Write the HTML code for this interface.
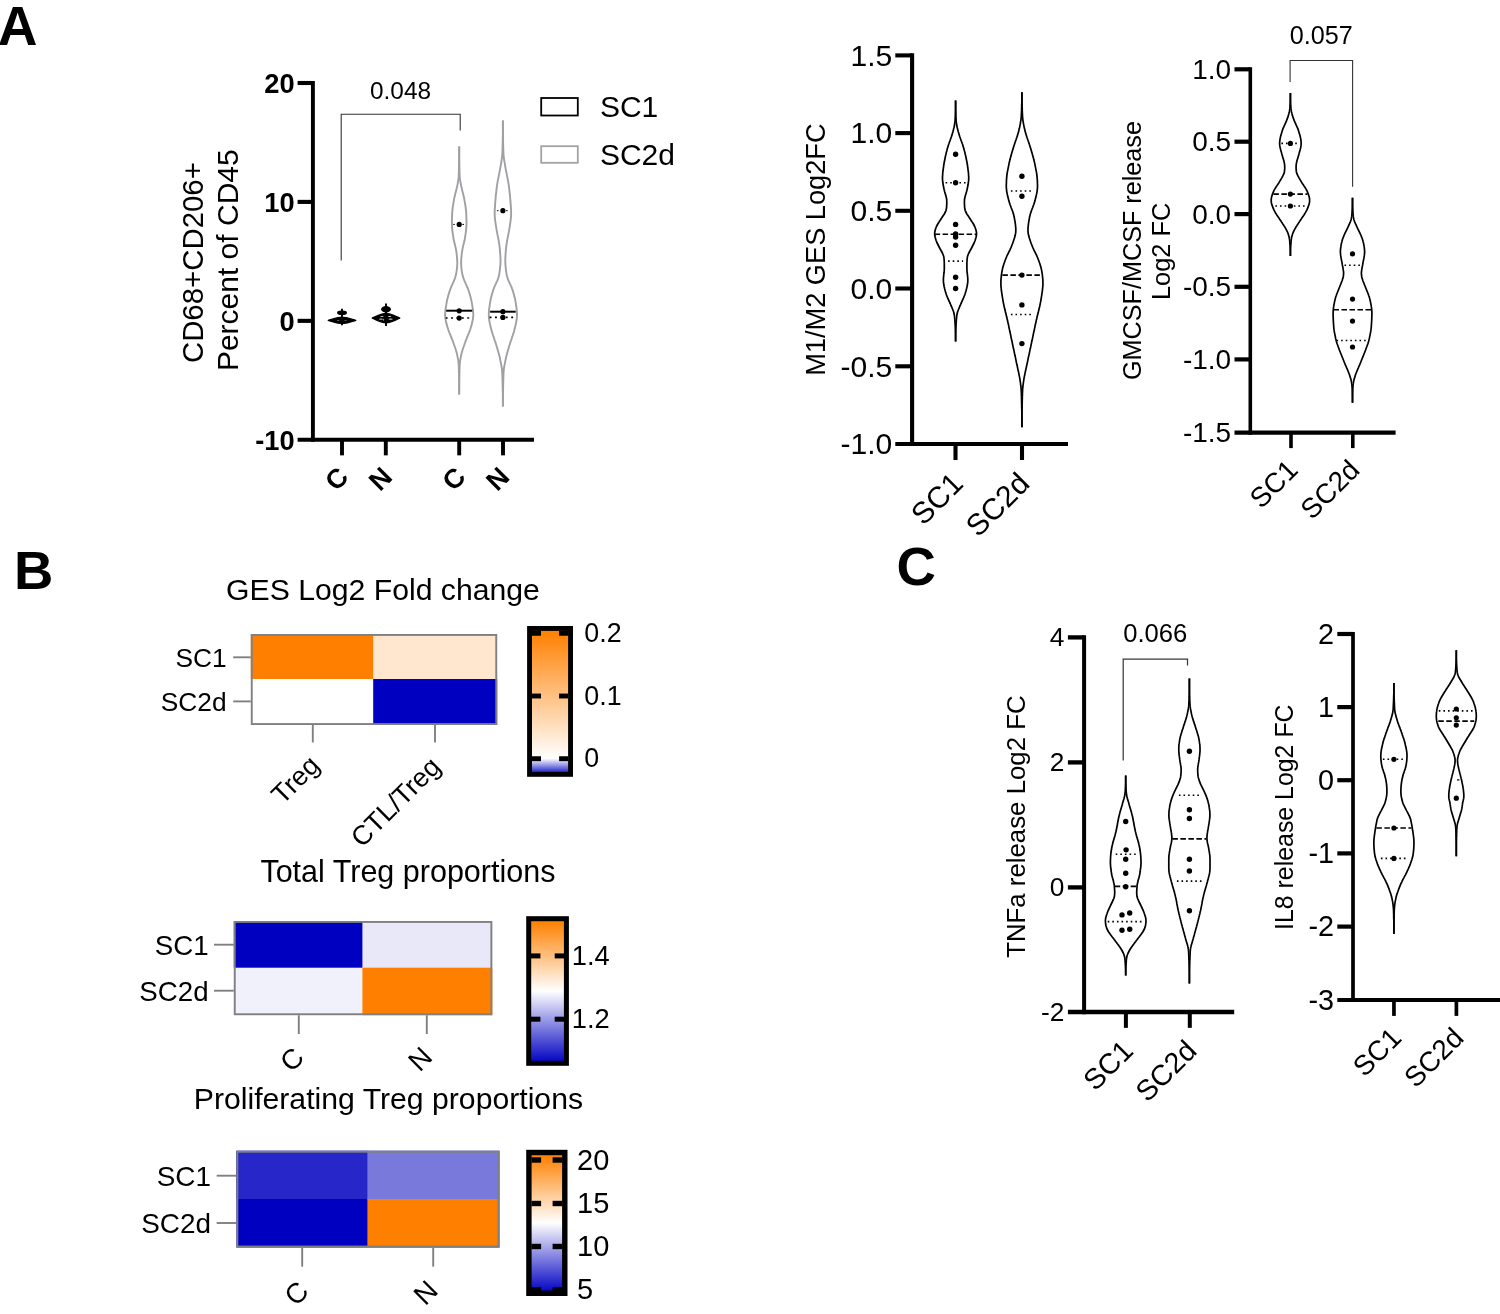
<!DOCTYPE html>
<html><head><meta charset="utf-8"><title>Figure</title>
<style>
html,body{margin:0;padding:0;background:#fff;}
svg{display:block;will-change:transform;}
text{font-family:"Liberation Sans",sans-serif;}
</style></head><body>
<svg width="1500" height="1314" viewBox="0 0 1500 1314" font-family="Liberation Sans, sans-serif">
<rect x="0" y="0" width="1500" height="1314" fill="#fff"/>
<text x="-2.20" y="45.00" font-size="55" text-anchor="start" font-weight="bold" fill="#000" >A</text>
<text x="14.00" y="588.70" font-size="54.5" text-anchor="start" font-weight="bold" fill="#000" >B</text>
<text x="896.60" y="584.50" font-size="54.5" text-anchor="start" font-weight="bold" fill="#000" >C</text>
<line x1="312.90" y1="80.95" x2="312.90" y2="441.85" stroke="#000" stroke-width="3.9" stroke-linecap="butt"/>
<line x1="297.60" y1="439.80" x2="534.00" y2="439.80" stroke="#000" stroke-width="4.1" stroke-linecap="butt"/>
<line x1="297.60" y1="83.00" x2="312.90" y2="83.00" stroke="#000" stroke-width="4.1" stroke-linecap="butt"/>
<line x1="297.60" y1="201.90" x2="312.90" y2="201.90" stroke="#000" stroke-width="4.1" stroke-linecap="butt"/>
<line x1="297.60" y1="320.85" x2="312.90" y2="320.85" stroke="#000" stroke-width="4.1" stroke-linecap="butt"/>
<line x1="342.00" y1="439.80" x2="342.00" y2="455.35" stroke="#000" stroke-width="3.9" stroke-linecap="butt"/>
<line x1="385.80" y1="439.80" x2="385.80" y2="455.35" stroke="#000" stroke-width="3.9" stroke-linecap="butt"/>
<line x1="459.20" y1="439.80" x2="459.20" y2="455.35" stroke="#000" stroke-width="3.9" stroke-linecap="butt"/>
<line x1="503.00" y1="439.80" x2="503.00" y2="455.35" stroke="#000" stroke-width="3.9" stroke-linecap="butt"/>
<text x="294.70" y="92.70" font-size="27.3" text-anchor="end" font-weight="bold" fill="#000" >20</text>
<text x="294.70" y="211.60" font-size="27.3" text-anchor="end" font-weight="bold" fill="#000" >10</text>
<text x="294.70" y="330.55" font-size="27.3" text-anchor="end" font-weight="bold" fill="#000" >0</text>
<text x="294.70" y="449.50" font-size="27.3" text-anchor="end" font-weight="bold" fill="#000" >-10</text>
<text x="203.40" y="262.60" font-size="29.4" text-anchor="middle" transform="rotate(-90 203.40 262.60)" fill="#000" >CD68+CD206+</text>
<text x="238.40" y="260.20" font-size="30" text-anchor="middle" transform="rotate(-90 238.40 260.20)" fill="#000" >Percent of CD45</text>
<text x="350.00" y="478.50" font-size="27" text-anchor="end" font-weight="bold" transform="rotate(-45 350.00 478.50)" fill="#000" >C</text>
<text x="393.80" y="478.50" font-size="27" text-anchor="end" font-weight="bold" transform="rotate(-45 393.80 478.50)" fill="#000" >N</text>
<text x="467.20" y="478.50" font-size="27" text-anchor="end" font-weight="bold" transform="rotate(-45 467.20 478.50)" fill="#000" >C</text>
<text x="511.00" y="478.50" font-size="27" text-anchor="end" font-weight="bold" transform="rotate(-45 511.00 478.50)" fill="#000" >N</text>
<polyline points="341.2,260.6 341.2,114.3 460.2,114.3 460.2,130.4" fill="none" stroke="#333" stroke-width="1.1"/>
<text x="400.50" y="98.60" font-size="24.4" text-anchor="middle" fill="#000" >0.048</text>
<rect x="541.20" y="98.00" width="36.60" height="17.50" fill="#fff" stroke="#000" stroke-width="1.8"/>
<rect x="541.20" y="146.20" width="36.60" height="16.60" fill="#fff" stroke="#a3a3a6" stroke-width="1.8"/>
<text x="599.90" y="116.80" font-size="30" text-anchor="start" fill="#000" >SC1</text>
<text x="599.90" y="164.60" font-size="30" text-anchor="start" fill="#000" >SC2d</text>
<path d="M328.20,320.30 C333.72,318.75 337.86,317.20 342.00,317.20 C346.14,317.20 350.28,318.75 355.80,320.30 C350.28,321.85 346.14,323.40 342.00,323.40 C337.86,323.40 333.72,321.85 328.20,320.30Z" fill="#000" stroke="#000" stroke-width="1.3" stroke-linejoin="round"/>
<ellipse cx="342.00" cy="312.70" rx="5.0" ry="2.3" fill="#000"/>
<line x1="342.00" y1="308.70" x2="342.00" y2="325.30" stroke="#000" stroke-width="1.9" stroke-linecap="butt"/>
<ellipse cx="338.20" cy="320.40" rx="1.6" ry="0.45" fill="#fff" opacity="0.55"/>
<ellipse cx="345.60" cy="320.40" rx="1.6" ry="0.45" fill="#fff" opacity="0.45"/>
<path d="M372.20,318.10 C377.72,315.75 381.86,313.40 386.00,313.40 C390.14,313.40 394.28,315.75 399.80,318.10 C394.28,320.45 390.14,322.80 386.00,322.80 C381.86,322.80 377.72,320.45 372.20,318.10Z" fill="#000" stroke="#000" stroke-width="1.3" stroke-linejoin="round"/>
<ellipse cx="386.00" cy="309.20" rx="4.9" ry="3.2" fill="#000"/>
<line x1="386.00" y1="303.40" x2="386.00" y2="325.90" stroke="#000" stroke-width="1.9" stroke-linecap="butt"/>
<ellipse cx="382.00" cy="316.40" rx="1.7" ry="0.5" fill="#fff" opacity="0.8"/>
<ellipse cx="389.60" cy="316.40" rx="1.7" ry="0.5" fill="#fff" opacity="0.8"/>
<ellipse cx="381.00" cy="319.10" rx="2.2" ry="0.6" fill="#fff" opacity="0.75"/>
<ellipse cx="390.60" cy="319.10" rx="2.2" ry="0.65" fill="#fff" opacity="0.85"/>
<ellipse cx="383.60" cy="319.70" rx="0.6" ry="1.0" fill="#fff" opacity="0.6"/>
<polyline points="459.2,146.6 459.2,147.6 459.2,148.6 459.2,149.6 459.2,150.6 459.2,151.6 459.2,152.6 459.2,153.6 459.2,154.6 459.2,155.6 459.2,156.6 459.2,157.6 459.2,158.6 459.2,159.6 459.2,160.6 459.2,161.6 459.1,162.6 459.0,163.6 459.0,164.6 459.0,165.6 459.0,166.6 459.0,167.6 458.9,168.6 458.9,169.6 458.9,170.6 458.9,171.6 458.8,172.6 458.8,173.6 458.8,174.6 458.7,175.6 458.7,176.6 458.6,177.6 458.5,178.6 458.3,179.6 458.2,180.6 458.0,181.6 457.9,182.6 457.7,183.6 457.5,184.6 457.3,185.6 457.1,186.6 456.9,187.6 456.6,188.6 456.4,189.6 456.2,190.6 455.9,191.6 455.6,192.6 455.4,193.6 455.1,194.6 454.9,195.6 454.7,196.6 454.4,197.6 454.2,198.6 454.0,199.6 453.9,200.6 453.7,201.6 453.5,202.6 453.3,203.6 453.2,204.6 453.0,205.6 452.9,206.6 452.7,207.6 452.6,208.6 452.5,209.6 452.4,210.6 452.3,211.6 452.2,212.6 452.2,213.6 452.1,214.6 452.1,215.6 452.0,216.6 452.0,217.6 452.0,218.6 451.9,219.6 451.9,220.6 451.9,221.6 451.9,222.6 451.9,223.6 451.9,224.6 452.0,225.6 452.0,226.6 452.1,227.6 452.2,228.6 452.3,229.6 452.4,230.6 452.5,231.6 452.6,232.6 452.8,233.6 452.9,234.6 453.1,235.6 453.2,236.6 453.4,237.6 453.5,238.6 453.7,239.6 453.9,240.6 454.2,241.6 454.4,242.6 454.6,243.6 454.9,244.6 455.1,245.6 455.4,246.6 455.6,247.6 455.8,248.6 456.0,249.6 456.2,250.6 456.3,251.6 456.5,252.6 456.6,253.6 456.7,254.6 456.8,255.6 456.9,256.6 457.0,257.6 457.1,258.6 457.2,259.6 457.2,260.6 457.2,261.6 457.3,262.6 457.3,263.6 457.2,264.6 457.2,265.6 457.1,266.6 457.0,267.6 456.9,268.6 456.8,269.6 456.7,270.6 456.5,271.6 456.3,272.6 456.2,273.6 456.0,274.6 455.7,275.6 455.5,276.6 455.2,277.6 454.8,278.6 454.4,279.6 454.0,280.6 453.6,281.6 453.1,282.6 452.7,283.6 452.2,284.6 451.8,285.6 451.3,286.6 450.9,287.6 450.5,288.6 450.2,289.6 449.8,290.6 449.5,291.6 449.2,292.6 448.9,293.6 448.6,294.6 448.3,295.6 448.0,296.6 447.8,297.6 447.5,298.6 447.3,299.6 447.0,300.6 446.8,301.6 446.6,302.6 446.5,303.6 446.3,304.6 446.1,305.6 446.0,306.6 445.8,307.6 445.6,308.6 445.5,309.6 445.4,310.6 445.3,311.6 445.2,312.6 445.1,313.6 445.1,314.6 445.1,315.6 445.2,316.6 445.3,317.6 445.4,318.6 445.6,319.6 445.8,320.6 446.0,321.6 446.2,322.6 446.5,323.6 446.7,324.6 447.0,325.6 447.3,326.6 447.6,327.6 447.9,328.6 448.2,329.6 448.6,330.6 449.0,331.6 449.3,332.6 449.8,333.6 450.2,334.6 450.6,335.6 451.0,336.6 451.4,337.6 451.8,338.6 452.2,339.6 452.6,340.6 453.0,341.6 453.3,342.6 453.7,343.6 454.0,344.6 454.4,345.6 454.7,346.6 455.1,347.6 455.4,348.6 455.7,349.6 456.0,350.6 456.3,351.6 456.6,352.6 456.9,353.6 457.1,354.6 457.3,355.6 457.5,356.6 457.7,357.6 457.9,358.6 458.1,359.6 458.3,360.6 458.4,361.6 458.5,362.6 458.6,363.6 458.7,364.6 458.7,365.6 458.8,366.6 458.8,367.6 458.8,368.6 458.9,369.6 458.9,370.6 458.9,371.6 458.9,372.6 459.0,373.6 459.0,374.6 459.0,375.6 459.0,376.6 459.0,377.6 459.1,378.6 459.1,379.6 459.2,380.6 459.2,381.6 459.2,382.6 459.2,383.6 459.2,384.6 459.2,385.6 459.2,386.6 459.2,387.6 459.2,388.6 459.2,389.6 459.2,390.6 459.2,391.6 459.2,392.6 459.2,393.6 459.2,394.6" fill="none" stroke="#a0a0a4" stroke-width="1.9" stroke-linejoin="round"/>
<polyline points="459.2,146.6 459.2,147.6 459.2,148.6 459.2,149.6 459.2,150.6 459.2,151.6 459.2,152.6 459.2,153.6 459.2,154.6 459.2,155.6 459.2,156.6 459.2,157.6 459.2,158.6 459.2,159.6 459.2,160.6 459.2,161.6 459.3,162.6 459.4,163.6 459.4,164.6 459.4,165.6 459.4,166.6 459.4,167.6 459.5,168.6 459.5,169.6 459.5,170.6 459.5,171.6 459.6,172.6 459.6,173.6 459.6,174.6 459.7,175.6 459.7,176.6 459.8,177.6 459.9,178.6 460.1,179.6 460.2,180.6 460.4,181.6 460.5,182.6 460.7,183.6 460.9,184.6 461.1,185.6 461.3,186.6 461.5,187.6 461.8,188.6 462.0,189.6 462.2,190.6 462.5,191.6 462.8,192.6 463.0,193.6 463.3,194.6 463.5,195.6 463.7,196.6 464.0,197.6 464.2,198.6 464.4,199.6 464.5,200.6 464.7,201.6 464.9,202.6 465.1,203.6 465.2,204.6 465.4,205.6 465.5,206.6 465.7,207.6 465.8,208.6 465.9,209.6 466.0,210.6 466.1,211.6 466.2,212.6 466.2,213.6 466.3,214.6 466.3,215.6 466.4,216.6 466.4,217.6 466.4,218.6 466.5,219.6 466.5,220.6 466.5,221.6 466.5,222.6 466.5,223.6 466.5,224.6 466.4,225.6 466.4,226.6 466.3,227.6 466.2,228.6 466.1,229.6 466.0,230.6 465.9,231.6 465.8,232.6 465.6,233.6 465.5,234.6 465.3,235.6 465.2,236.6 465.0,237.6 464.9,238.6 464.7,239.6 464.5,240.6 464.2,241.6 464.0,242.6 463.8,243.6 463.5,244.6 463.3,245.6 463.0,246.6 462.8,247.6 462.6,248.6 462.4,249.6 462.2,250.6 462.1,251.6 461.9,252.6 461.8,253.6 461.7,254.6 461.6,255.6 461.5,256.6 461.4,257.6 461.3,258.6 461.2,259.6 461.2,260.6 461.2,261.6 461.1,262.6 461.1,263.6 461.2,264.6 461.2,265.6 461.3,266.6 461.4,267.6 461.5,268.6 461.6,269.6 461.7,270.6 461.9,271.6 462.1,272.6 462.2,273.6 462.4,274.6 462.7,275.6 462.9,276.6 463.2,277.6 463.6,278.6 464.0,279.6 464.4,280.6 464.8,281.6 465.3,282.6 465.7,283.6 466.2,284.6 466.6,285.6 467.1,286.6 467.5,287.6 467.9,288.6 468.2,289.6 468.6,290.6 468.9,291.6 469.2,292.6 469.5,293.6 469.8,294.6 470.1,295.6 470.4,296.6 470.6,297.6 470.9,298.6 471.1,299.6 471.4,300.6 471.6,301.6 471.8,302.6 471.9,303.6 472.1,304.6 472.3,305.6 472.4,306.6 472.6,307.6 472.8,308.6 472.9,309.6 473.0,310.6 473.1,311.6 473.2,312.6 473.3,313.6 473.3,314.6 473.3,315.6 473.2,316.6 473.1,317.6 473.0,318.6 472.8,319.6 472.6,320.6 472.4,321.6 472.2,322.6 471.9,323.6 471.7,324.6 471.4,325.6 471.1,326.6 470.8,327.6 470.5,328.6 470.2,329.6 469.8,330.6 469.4,331.6 469.1,332.6 468.6,333.6 468.2,334.6 467.8,335.6 467.4,336.6 467.0,337.6 466.6,338.6 466.2,339.6 465.8,340.6 465.4,341.6 465.1,342.6 464.7,343.6 464.4,344.6 464.0,345.6 463.7,346.6 463.3,347.6 463.0,348.6 462.7,349.6 462.4,350.6 462.1,351.6 461.8,352.6 461.5,353.6 461.3,354.6 461.1,355.6 460.9,356.6 460.7,357.6 460.5,358.6 460.3,359.6 460.1,360.6 460.0,361.6 459.9,362.6 459.8,363.6 459.7,364.6 459.7,365.6 459.6,366.6 459.6,367.6 459.6,368.6 459.5,369.6 459.5,370.6 459.5,371.6 459.5,372.6 459.4,373.6 459.4,374.6 459.4,375.6 459.4,376.6 459.4,377.6 459.3,378.6 459.3,379.6 459.2,380.6 459.2,381.6 459.2,382.6 459.2,383.6 459.2,384.6 459.2,385.6 459.2,386.6 459.2,387.6 459.2,388.6 459.2,389.6 459.2,390.6 459.2,391.6 459.2,392.6 459.2,393.6 459.2,394.6" fill="none" stroke="#a0a0a4" stroke-width="1.9" stroke-linejoin="round"/>
<polyline points="502.9,120.6 502.9,121.6 502.9,122.6 502.9,123.6 502.9,124.6 502.9,125.6 502.9,126.6 502.9,127.6 502.9,128.6 502.9,129.6 502.9,130.6 502.9,131.6 502.9,132.6 502.9,133.6 502.9,134.6 502.9,135.6 502.8,136.6 502.8,137.6 502.7,138.6 502.7,139.6 502.7,140.6 502.7,141.6 502.7,142.6 502.7,143.6 502.6,144.6 502.6,145.6 502.6,146.6 502.6,147.6 502.5,148.6 502.5,149.6 502.5,150.6 502.4,151.6 502.4,152.6 502.3,153.6 502.3,154.6 502.2,155.6 502.1,156.6 502.0,157.6 501.8,158.6 501.7,159.6 501.5,160.6 501.4,161.6 501.2,162.6 501.0,163.6 500.9,164.6 500.7,165.6 500.5,166.6 500.4,167.6 500.2,168.6 500.0,169.6 499.8,170.6 499.6,171.6 499.4,172.6 499.2,173.6 499.0,174.6 498.8,175.6 498.6,176.6 498.4,177.6 498.2,178.6 498.0,179.6 497.8,180.6 497.6,181.6 497.5,182.6 497.3,183.6 497.1,184.6 497.0,185.6 496.9,186.6 496.7,187.6 496.6,188.6 496.5,189.6 496.4,190.6 496.3,191.6 496.2,192.6 496.0,193.6 495.9,194.6 495.8,195.6 495.7,196.6 495.7,197.6 495.6,198.6 495.5,199.6 495.4,200.6 495.3,201.6 495.2,202.6 495.2,203.6 495.1,204.6 495.0,205.6 495.0,206.6 494.9,207.6 494.8,208.6 494.8,209.6 494.7,210.6 494.7,211.6 494.7,212.6 494.7,213.6 494.7,214.6 494.7,215.6 494.8,216.6 494.9,217.6 495.0,218.6 495.1,219.6 495.2,220.6 495.3,221.6 495.5,222.6 495.6,223.6 495.8,224.6 495.9,225.6 496.1,226.6 496.2,227.6 496.4,228.6 496.6,229.6 496.7,230.6 496.9,231.6 497.1,232.6 497.3,233.6 497.5,234.6 497.7,235.6 497.9,236.6 498.1,237.6 498.3,238.6 498.5,239.6 498.7,240.6 498.8,241.6 499.0,242.6 499.2,243.6 499.3,244.6 499.4,245.6 499.6,246.6 499.7,247.6 499.8,248.6 499.9,249.6 500.0,250.6 500.0,251.6 500.1,252.6 500.2,253.6 500.3,254.6 500.3,255.6 500.4,256.6 500.4,257.6 500.5,258.6 500.5,259.6 500.5,260.6 500.5,261.6 500.5,262.6 500.4,263.6 500.4,264.6 500.3,265.6 500.2,266.6 500.1,267.6 500.0,268.6 499.9,269.6 499.8,270.6 499.6,271.6 499.5,272.6 499.3,273.6 499.2,274.6 498.9,275.6 498.7,276.6 498.4,277.6 498.1,278.6 497.7,279.6 497.3,280.6 496.8,281.6 496.3,282.6 495.9,283.6 495.4,284.6 495.0,285.6 494.5,286.6 494.1,287.6 493.8,288.6 493.4,289.6 493.1,290.6 492.8,291.6 492.5,292.6 492.2,293.6 491.9,294.6 491.6,295.6 491.4,296.6 491.1,297.6 490.9,298.6 490.6,299.6 490.4,300.6 490.3,301.6 490.1,302.6 489.9,303.6 489.8,304.6 489.6,305.6 489.5,306.6 489.4,307.6 489.2,308.6 489.1,309.6 489.0,310.6 488.9,311.6 488.9,312.6 488.8,313.6 488.8,314.6 488.8,315.6 488.9,316.6 488.9,317.6 489.0,318.6 489.2,319.6 489.3,320.6 489.5,321.6 489.7,322.6 489.9,323.6 490.1,324.6 490.3,325.6 490.6,326.6 490.8,327.6 491.0,328.6 491.3,329.6 491.6,330.6 491.8,331.6 492.1,332.6 492.5,333.6 492.8,334.6 493.1,335.6 493.5,336.6 493.8,337.6 494.1,338.6 494.5,339.6 494.8,340.6 495.2,341.6 495.5,342.6 495.8,343.6 496.1,344.6 496.4,345.6 496.7,346.6 497.0,347.6 497.3,348.6 497.6,349.6 497.9,350.6 498.2,351.6 498.5,352.6 498.7,353.6 499.0,354.6 499.3,355.6 499.5,356.6 499.8,357.6 500.0,358.6 500.2,359.6 500.4,360.6 500.6,361.6 500.8,362.6 501.0,363.6 501.2,364.6 501.4,365.6 501.6,366.6 501.7,367.6 501.9,368.6 502.0,369.6 502.1,370.6 502.1,371.6 502.2,372.6 502.3,373.6 502.3,374.6 502.3,375.6 502.4,376.6 502.4,377.6 502.4,378.6 502.5,379.6 502.5,380.6 502.5,381.6 502.6,382.6 502.6,383.6 502.6,384.6 502.6,385.6 502.7,386.6 502.7,387.6 502.7,388.6 502.7,389.6 502.7,390.6 502.8,391.6 502.8,392.6 502.9,393.6 502.9,394.6 502.9,395.6 502.9,396.6 502.9,397.6 502.9,398.6 502.9,399.6 502.9,400.6 502.9,401.6 502.9,402.6 502.9,403.6 502.9,404.6 502.9,405.6 502.9,406.6" fill="none" stroke="#a0a0a4" stroke-width="1.9" stroke-linejoin="round"/>
<polyline points="502.9,120.6 502.9,121.6 502.9,122.6 502.9,123.6 502.9,124.6 502.9,125.6 502.9,126.6 502.9,127.6 502.9,128.6 502.9,129.6 502.9,130.6 502.9,131.6 502.9,132.6 502.9,133.6 502.9,134.6 502.9,135.6 503.0,136.6 503.0,137.6 503.1,138.6 503.1,139.6 503.1,140.6 503.1,141.6 503.1,142.6 503.1,143.6 503.2,144.6 503.2,145.6 503.2,146.6 503.2,147.6 503.3,148.6 503.3,149.6 503.3,150.6 503.4,151.6 503.4,152.6 503.5,153.6 503.5,154.6 503.6,155.6 503.7,156.6 503.8,157.6 504.0,158.6 504.1,159.6 504.3,160.6 504.4,161.6 504.6,162.6 504.8,163.6 504.9,164.6 505.1,165.6 505.3,166.6 505.4,167.6 505.6,168.6 505.8,169.6 506.0,170.6 506.2,171.6 506.4,172.6 506.6,173.6 506.8,174.6 507.0,175.6 507.2,176.6 507.4,177.6 507.6,178.6 507.8,179.6 508.0,180.6 508.2,181.6 508.3,182.6 508.5,183.6 508.7,184.6 508.8,185.6 508.9,186.6 509.1,187.6 509.2,188.6 509.3,189.6 509.4,190.6 509.5,191.6 509.6,192.6 509.8,193.6 509.9,194.6 510.0,195.6 510.1,196.6 510.1,197.6 510.2,198.6 510.3,199.6 510.4,200.6 510.5,201.6 510.6,202.6 510.6,203.6 510.7,204.6 510.8,205.6 510.8,206.6 510.9,207.6 511.0,208.6 511.0,209.6 511.1,210.6 511.1,211.6 511.1,212.6 511.1,213.6 511.1,214.6 511.1,215.6 511.0,216.6 510.9,217.6 510.8,218.6 510.7,219.6 510.6,220.6 510.5,221.6 510.3,222.6 510.2,223.6 510.0,224.6 509.9,225.6 509.7,226.6 509.6,227.6 509.4,228.6 509.2,229.6 509.1,230.6 508.9,231.6 508.7,232.6 508.5,233.6 508.3,234.6 508.1,235.6 507.9,236.6 507.7,237.6 507.5,238.6 507.3,239.6 507.1,240.6 507.0,241.6 506.8,242.6 506.6,243.6 506.5,244.6 506.4,245.6 506.2,246.6 506.1,247.6 506.0,248.6 505.9,249.6 505.8,250.6 505.8,251.6 505.7,252.6 505.6,253.6 505.5,254.6 505.5,255.6 505.4,256.6 505.4,257.6 505.3,258.6 505.3,259.6 505.3,260.6 505.3,261.6 505.3,262.6 505.4,263.6 505.4,264.6 505.5,265.6 505.6,266.6 505.7,267.6 505.8,268.6 505.9,269.6 506.0,270.6 506.2,271.6 506.3,272.6 506.5,273.6 506.6,274.6 506.9,275.6 507.1,276.6 507.4,277.6 507.7,278.6 508.1,279.6 508.5,280.6 509.0,281.6 509.5,282.6 509.9,283.6 510.4,284.6 510.8,285.6 511.3,286.6 511.7,287.6 512.0,288.6 512.4,289.6 512.7,290.6 513.0,291.6 513.3,292.6 513.6,293.6 513.9,294.6 514.2,295.6 514.4,296.6 514.7,297.6 514.9,298.6 515.2,299.6 515.4,300.6 515.5,301.6 515.7,302.6 515.9,303.6 516.0,304.6 516.2,305.6 516.3,306.6 516.4,307.6 516.6,308.6 516.7,309.6 516.8,310.6 516.9,311.6 516.9,312.6 517.0,313.6 517.0,314.6 517.0,315.6 516.9,316.6 516.9,317.6 516.8,318.6 516.6,319.6 516.5,320.6 516.3,321.6 516.1,322.6 515.9,323.6 515.7,324.6 515.5,325.6 515.2,326.6 515.0,327.6 514.8,328.6 514.5,329.6 514.2,330.6 514.0,331.6 513.7,332.6 513.3,333.6 513.0,334.6 512.7,335.6 512.3,336.6 512.0,337.6 511.7,338.6 511.3,339.6 511.0,340.6 510.6,341.6 510.3,342.6 510.0,343.6 509.7,344.6 509.4,345.6 509.1,346.6 508.8,347.6 508.5,348.6 508.2,349.6 507.9,350.6 507.6,351.6 507.3,352.6 507.1,353.6 506.8,354.6 506.5,355.6 506.3,356.6 506.0,357.6 505.8,358.6 505.6,359.6 505.4,360.6 505.2,361.6 505.0,362.6 504.8,363.6 504.6,364.6 504.4,365.6 504.2,366.6 504.1,367.6 503.9,368.6 503.8,369.6 503.7,370.6 503.7,371.6 503.6,372.6 503.5,373.6 503.5,374.6 503.5,375.6 503.4,376.6 503.4,377.6 503.4,378.6 503.3,379.6 503.3,380.6 503.3,381.6 503.2,382.6 503.2,383.6 503.2,384.6 503.2,385.6 503.1,386.6 503.1,387.6 503.1,388.6 503.1,389.6 503.1,390.6 503.0,391.6 503.0,392.6 502.9,393.6 502.9,394.6 502.9,395.6 502.9,396.6 502.9,397.6 502.9,398.6 502.9,399.6 502.9,400.6 502.9,401.6 502.9,402.6 502.9,403.6 502.9,404.6 502.9,405.6 502.9,406.6" fill="none" stroke="#a0a0a4" stroke-width="1.9" stroke-linejoin="round"/>
<line x1="453.20" y1="224.40" x2="465.20" y2="224.40" stroke="#000" stroke-width="1.0" stroke-dasharray="1.6 3.0" stroke-linecap="butt"/>
<line x1="446.20" y1="310.70" x2="472.20" y2="310.70" stroke="#000" stroke-width="2.0" stroke-linecap="butt"/>
<line x1="445.70" y1="318.00" x2="472.70" y2="318.00" stroke="#000" stroke-width="1.7" stroke-dasharray="1.9 3.5" stroke-linecap="butt"/>
<line x1="496.90" y1="210.70" x2="508.90" y2="210.70" stroke="#000" stroke-width="1.0" stroke-dasharray="1.6 3.0" stroke-linecap="butt"/>
<line x1="490.10" y1="311.70" x2="515.70" y2="311.70" stroke="#000" stroke-width="2.0" stroke-linecap="butt"/>
<line x1="489.60" y1="317.40" x2="516.20" y2="317.40" stroke="#000" stroke-width="1.7" stroke-dasharray="1.9 3.5" stroke-linecap="butt"/>
<circle cx="459.20" cy="224.40" r="2.6" fill="#000"/>
<circle cx="459.20" cy="310.80" r="2.6" fill="#000"/>
<circle cx="459.20" cy="318.10" r="2.6" fill="#000"/>
<circle cx="502.90" cy="210.70" r="2.6" fill="#000"/>
<circle cx="502.90" cy="311.70" r="2.6" fill="#000"/>
<circle cx="502.90" cy="317.40" r="2.6" fill="#000"/>
<line x1="912.10" y1="53.35" x2="912.10" y2="446.00" stroke="#000" stroke-width="4.1" stroke-linecap="butt"/>
<line x1="895.30" y1="443.95" x2="1068.00" y2="443.95" stroke="#000" stroke-width="4.1" stroke-linecap="butt"/>
<line x1="895.30" y1="55.40" x2="912.10" y2="55.40" stroke="#000" stroke-width="4.1" stroke-linecap="butt"/>
<line x1="895.30" y1="133.10" x2="912.10" y2="133.10" stroke="#000" stroke-width="4.1" stroke-linecap="butt"/>
<line x1="895.30" y1="210.80" x2="912.10" y2="210.80" stroke="#000" stroke-width="4.1" stroke-linecap="butt"/>
<line x1="895.30" y1="288.50" x2="912.10" y2="288.50" stroke="#000" stroke-width="4.1" stroke-linecap="butt"/>
<line x1="895.30" y1="366.30" x2="912.10" y2="366.30" stroke="#000" stroke-width="4.1" stroke-linecap="butt"/>
<line x1="955.50" y1="443.95" x2="955.50" y2="460.00" stroke="#000" stroke-width="4.1" stroke-linecap="butt"/>
<line x1="1022.00" y1="443.95" x2="1022.00" y2="460.00" stroke="#000" stroke-width="4.1" stroke-linecap="butt"/>
<text x="892.30" y="65.70" font-size="30" text-anchor="end" fill="#000" >1.5</text>
<text x="892.30" y="143.40" font-size="30" text-anchor="end" fill="#000" >1.0</text>
<text x="892.30" y="221.10" font-size="30" text-anchor="end" fill="#000" >0.5</text>
<text x="892.30" y="298.80" font-size="30" text-anchor="end" fill="#000" >0.0</text>
<text x="892.30" y="376.60" font-size="30" text-anchor="end" fill="#000" >-0.5</text>
<text x="892.30" y="454.25" font-size="30" text-anchor="end" fill="#000" >-1.0</text>
<text x="825.00" y="249.60" font-size="27.2" text-anchor="middle" transform="rotate(-90 825.00 249.60)" fill="#000" >M1/M2 GES Log2FC</text>
<text x="964.80" y="485.30" font-size="30" text-anchor="end" transform="rotate(-45 964.80 485.30)" fill="#000" >SC1</text>
<text x="1031.30" y="485.30" font-size="30" text-anchor="end" transform="rotate(-45 1031.30 485.30)" fill="#000" >SC2d</text>
<polyline points="955.6,100.5 955.6,101.5 955.6,102.5 955.6,103.5 955.6,104.5 955.6,105.5 955.6,106.5 955.6,107.5 955.6,108.5 955.6,109.5 955.5,110.5 955.4,111.5 955.4,112.5 955.4,113.5 955.3,114.5 955.3,115.5 955.3,116.5 955.2,117.5 955.2,118.5 955.1,119.5 955.1,120.5 955.0,121.5 954.9,122.5 954.7,123.5 954.6,124.5 954.4,125.5 954.2,126.5 954.0,127.5 953.7,128.5 953.5,129.5 953.2,130.5 953.0,131.5 952.7,132.5 952.4,133.5 952.1,134.5 951.8,135.5 951.5,136.5 951.1,137.5 950.8,138.5 950.4,139.5 950.1,140.5 949.7,141.5 949.3,142.5 949.0,143.5 948.6,144.5 948.3,145.5 948.0,146.5 947.7,147.5 947.4,148.5 947.1,149.5 946.9,150.5 946.6,151.5 946.3,152.5 946.1,153.5 945.9,154.5 945.6,155.5 945.4,156.5 945.2,157.5 945.0,158.5 944.8,159.5 944.6,160.5 944.4,161.5 944.2,162.5 944.0,163.5 943.9,164.5 943.7,165.5 943.6,166.5 943.5,167.5 943.3,168.5 943.2,169.5 943.1,170.5 942.9,171.5 942.8,172.5 942.7,173.5 942.7,174.5 942.6,175.5 942.5,176.5 942.5,177.5 942.5,178.5 942.5,179.5 942.6,180.5 942.7,181.5 942.8,182.5 943.0,183.5 943.1,184.5 943.3,185.5 943.5,186.5 943.7,187.5 943.9,188.5 944.1,189.5 944.4,190.5 944.6,191.5 944.9,192.5 945.2,193.5 945.5,194.5 945.8,195.5 946.1,196.5 946.3,197.5 946.5,198.5 946.7,199.5 946.7,200.5 946.8,201.5 946.8,202.5 946.8,203.5 946.7,204.5 946.7,205.5 946.6,206.5 946.6,207.5 946.4,208.5 946.2,209.5 946.0,210.5 945.6,211.5 945.1,212.5 944.6,213.5 944.0,214.5 943.3,215.5 942.6,216.5 942.0,217.5 941.3,218.5 940.7,219.5 940.0,220.5 939.4,221.5 938.7,222.5 938.1,223.5 937.5,224.5 937.0,225.5 936.5,226.5 936.1,227.5 935.7,228.5 935.4,229.5 935.1,230.5 934.9,231.5 934.7,232.5 934.7,233.5 934.7,234.5 934.8,235.5 935.0,236.5 935.2,237.5 935.5,238.5 935.8,239.5 936.1,240.5 936.5,241.5 936.9,242.5 937.4,243.5 937.9,244.5 938.4,245.5 938.9,246.5 939.4,247.5 939.9,248.5 940.5,249.5 941.0,250.5 941.6,251.5 942.1,252.5 942.6,253.5 943.0,254.5 943.4,255.5 943.7,256.5 943.9,257.5 944.0,258.5 944.1,259.5 944.2,260.5 944.2,261.5 944.3,262.5 944.3,263.5 944.3,264.5 944.3,265.5 944.3,266.5 944.3,267.5 944.3,268.5 944.3,269.5 944.2,270.5 944.2,271.5 944.1,272.5 943.9,273.5 943.8,274.5 943.7,275.5 943.6,276.5 943.5,277.5 943.4,278.5 943.4,279.5 943.4,280.5 943.4,281.5 943.5,282.5 943.6,283.5 943.8,284.5 943.9,285.5 944.1,286.5 944.4,287.5 944.6,288.5 944.9,289.5 945.1,290.5 945.4,291.5 945.7,292.5 946.0,293.5 946.3,294.5 946.7,295.5 947.1,296.5 947.5,297.5 947.9,298.5 948.4,299.5 948.8,300.5 949.3,301.5 949.7,302.5 950.2,303.5 950.6,304.5 951.0,305.5 951.5,306.5 951.9,307.5 952.3,308.5 952.7,309.5 953.1,310.5 953.5,311.5 953.8,312.5 954.0,313.5 954.2,314.5 954.4,315.5 954.5,316.5 954.6,317.5 954.7,318.5 954.8,319.5 954.9,320.5 954.9,321.5 955.0,322.5 955.1,323.5 955.1,324.5 955.2,325.5 955.2,326.5 955.3,327.5 955.3,328.5 955.3,329.5 955.4,330.5 955.4,331.5 955.4,332.5 955.5,333.5 955.6,334.5 955.6,335.5 955.6,336.5 955.6,337.5 955.6,338.5 955.6,339.5 955.6,340.5 955.6,341.5" fill="none" stroke="#000" stroke-width="1.7" stroke-linejoin="round"/>
<polyline points="955.6,100.5 955.6,101.5 955.6,102.5 955.6,103.5 955.6,104.5 955.6,105.5 955.6,106.5 955.6,107.5 955.6,108.5 955.6,109.5 955.7,110.5 955.8,111.5 955.8,112.5 955.8,113.5 955.9,114.5 955.9,115.5 955.9,116.5 956.0,117.5 956.0,118.5 956.1,119.5 956.1,120.5 956.2,121.5 956.3,122.5 956.5,123.5 956.6,124.5 956.8,125.5 957.0,126.5 957.2,127.5 957.5,128.5 957.7,129.5 958.0,130.5 958.2,131.5 958.5,132.5 958.8,133.5 959.1,134.5 959.4,135.5 959.7,136.5 960.1,137.5 960.4,138.5 960.8,139.5 961.1,140.5 961.5,141.5 961.9,142.5 962.2,143.5 962.6,144.5 962.9,145.5 963.2,146.5 963.5,147.5 963.8,148.5 964.1,149.5 964.3,150.5 964.6,151.5 964.9,152.5 965.1,153.5 965.3,154.5 965.6,155.5 965.8,156.5 966.0,157.5 966.2,158.5 966.4,159.5 966.6,160.5 966.8,161.5 967.0,162.5 967.2,163.5 967.3,164.5 967.5,165.5 967.6,166.5 967.7,167.5 967.9,168.5 968.0,169.5 968.1,170.5 968.3,171.5 968.4,172.5 968.5,173.5 968.5,174.5 968.6,175.5 968.7,176.5 968.7,177.5 968.7,178.5 968.7,179.5 968.6,180.5 968.5,181.5 968.4,182.5 968.2,183.5 968.1,184.5 967.9,185.5 967.7,186.5 967.5,187.5 967.3,188.5 967.1,189.5 966.8,190.5 966.6,191.5 966.3,192.5 966.0,193.5 965.7,194.5 965.4,195.5 965.1,196.5 964.9,197.5 964.7,198.5 964.5,199.5 964.5,200.5 964.4,201.5 964.4,202.5 964.4,203.5 964.5,204.5 964.5,205.5 964.6,206.5 964.6,207.5 964.8,208.5 965.0,209.5 965.2,210.5 965.6,211.5 966.1,212.5 966.6,213.5 967.2,214.5 967.9,215.5 968.6,216.5 969.2,217.5 969.9,218.5 970.5,219.5 971.2,220.5 971.8,221.5 972.5,222.5 973.1,223.5 973.7,224.5 974.2,225.5 974.7,226.5 975.1,227.5 975.5,228.5 975.8,229.5 976.1,230.5 976.3,231.5 976.5,232.5 976.5,233.5 976.5,234.5 976.4,235.5 976.2,236.5 976.0,237.5 975.7,238.5 975.4,239.5 975.1,240.5 974.7,241.5 974.3,242.5 973.8,243.5 973.3,244.5 972.8,245.5 972.3,246.5 971.8,247.5 971.3,248.5 970.7,249.5 970.2,250.5 969.6,251.5 969.1,252.5 968.6,253.5 968.2,254.5 967.8,255.5 967.5,256.5 967.3,257.5 967.2,258.5 967.1,259.5 967.0,260.5 967.0,261.5 966.9,262.5 966.9,263.5 966.9,264.5 966.9,265.5 966.9,266.5 966.9,267.5 966.9,268.5 966.9,269.5 967.0,270.5 967.0,271.5 967.1,272.5 967.3,273.5 967.4,274.5 967.5,275.5 967.6,276.5 967.7,277.5 967.8,278.5 967.8,279.5 967.8,280.5 967.8,281.5 967.7,282.5 967.6,283.5 967.4,284.5 967.3,285.5 967.1,286.5 966.8,287.5 966.6,288.5 966.3,289.5 966.1,290.5 965.8,291.5 965.5,292.5 965.2,293.5 964.9,294.5 964.5,295.5 964.1,296.5 963.7,297.5 963.3,298.5 962.8,299.5 962.4,300.5 961.9,301.5 961.5,302.5 961.0,303.5 960.6,304.5 960.2,305.5 959.7,306.5 959.3,307.5 958.9,308.5 958.5,309.5 958.1,310.5 957.7,311.5 957.4,312.5 957.2,313.5 957.0,314.5 956.8,315.5 956.7,316.5 956.6,317.5 956.5,318.5 956.4,319.5 956.3,320.5 956.3,321.5 956.2,322.5 956.1,323.5 956.1,324.5 956.0,325.5 956.0,326.5 955.9,327.5 955.9,328.5 955.9,329.5 955.8,330.5 955.8,331.5 955.8,332.5 955.7,333.5 955.6,334.5 955.6,335.5 955.6,336.5 955.6,337.5 955.6,338.5 955.6,339.5 955.6,340.5 955.6,341.5" fill="none" stroke="#000" stroke-width="1.7" stroke-linejoin="round"/>
<polyline points="1021.9,92.3 1021.9,93.3 1021.9,94.3 1021.9,95.3 1021.9,96.3 1021.9,97.3 1021.9,98.3 1021.9,99.3 1021.9,100.3 1021.9,101.3 1021.9,102.3 1021.8,103.3 1021.7,104.3 1021.7,105.3 1021.7,106.3 1021.7,107.3 1021.6,108.3 1021.6,109.3 1021.6,110.3 1021.5,111.3 1021.5,112.3 1021.4,113.3 1021.4,114.3 1021.3,115.3 1021.3,116.3 1021.2,117.3 1021.1,118.3 1021.0,119.3 1020.9,120.3 1020.7,121.3 1020.5,122.3 1020.4,123.3 1020.2,124.3 1020.0,125.3 1019.8,126.3 1019.6,127.3 1019.4,128.3 1019.1,129.3 1018.9,130.3 1018.7,131.3 1018.4,132.3 1018.1,133.3 1017.8,134.3 1017.5,135.3 1017.2,136.3 1016.9,137.3 1016.5,138.3 1016.2,139.3 1015.8,140.3 1015.5,141.3 1015.1,142.3 1014.8,143.3 1014.5,144.3 1014.1,145.3 1013.8,146.3 1013.5,147.3 1013.2,148.3 1012.9,149.3 1012.6,150.3 1012.3,151.3 1012.0,152.3 1011.7,153.3 1011.4,154.3 1011.2,155.3 1010.9,156.3 1010.6,157.3 1010.3,158.3 1010.1,159.3 1009.8,160.3 1009.6,161.3 1009.3,162.3 1009.1,163.3 1008.9,164.3 1008.7,165.3 1008.5,166.3 1008.3,167.3 1008.1,168.3 1007.9,169.3 1007.7,170.3 1007.5,171.3 1007.3,172.3 1007.2,173.3 1007.0,174.3 1006.9,175.3 1006.8,176.3 1006.7,177.3 1006.6,178.3 1006.5,179.3 1006.5,180.3 1006.4,181.3 1006.4,182.3 1006.4,183.3 1006.3,184.3 1006.3,185.3 1006.3,186.3 1006.3,187.3 1006.4,188.3 1006.5,189.3 1006.6,190.3 1006.7,191.3 1006.9,192.3 1007.1,193.3 1007.3,194.3 1007.5,195.3 1007.7,196.3 1008.0,197.3 1008.2,198.3 1008.5,199.3 1008.7,200.3 1009.0,201.3 1009.3,202.3 1009.6,203.3 1009.9,204.3 1010.3,205.3 1010.7,206.3 1011.0,207.3 1011.4,208.3 1011.8,209.3 1012.2,210.3 1012.6,211.3 1012.9,212.3 1013.2,213.3 1013.5,214.3 1013.8,215.3 1014.0,216.3 1014.3,217.3 1014.4,218.3 1014.6,219.3 1014.8,220.3 1015.0,221.3 1015.1,222.3 1015.3,223.3 1015.4,224.3 1015.5,225.3 1015.6,226.3 1015.7,227.3 1015.8,228.3 1015.8,229.3 1015.8,230.3 1015.8,231.3 1015.7,232.3 1015.6,233.3 1015.4,234.3 1015.2,235.3 1014.9,236.3 1014.7,237.3 1014.4,238.3 1014.0,239.3 1013.7,240.3 1013.4,241.3 1013.0,242.3 1012.7,243.3 1012.3,244.3 1011.9,245.3 1011.5,246.3 1011.1,247.3 1010.6,248.3 1010.2,249.3 1009.7,250.3 1009.2,251.3 1008.7,252.3 1008.2,253.3 1007.7,254.3 1007.2,255.3 1006.8,256.3 1006.4,257.3 1006.0,258.3 1005.6,259.3 1005.2,260.3 1004.8,261.3 1004.5,262.3 1004.1,263.3 1003.8,264.3 1003.5,265.3 1003.2,266.3 1002.9,267.3 1002.6,268.3 1002.4,269.3 1002.2,270.3 1002.0,271.3 1001.8,272.3 1001.7,273.3 1001.5,274.3 1001.4,275.3 1001.3,276.3 1001.2,277.3 1001.1,278.3 1001.0,279.3 1000.9,280.3 1000.9,281.3 1000.9,282.3 1000.9,283.3 1000.9,284.3 1000.9,285.3 1001.0,286.3 1001.1,287.3 1001.2,288.3 1001.3,289.3 1001.4,290.3 1001.5,291.3 1001.7,292.3 1001.8,293.3 1002.0,294.3 1002.1,295.3 1002.3,296.3 1002.4,297.3 1002.6,298.3 1002.8,299.3 1002.9,300.3 1003.1,301.3 1003.3,302.3 1003.5,303.3 1003.7,304.3 1003.9,305.3 1004.1,306.3 1004.3,307.3 1004.6,308.3 1004.8,309.3 1005.1,310.3 1005.3,311.3 1005.5,312.3 1005.8,313.3 1006.0,314.3 1006.3,315.3 1006.5,316.3 1006.8,317.3 1007.0,318.3 1007.2,319.3 1007.5,320.3 1007.7,321.3 1007.9,322.3 1008.1,323.3 1008.4,324.3 1008.6,325.3 1008.8,326.3 1009.0,327.3 1009.2,328.3 1009.4,329.3 1009.6,330.3 1009.8,331.3 1010.1,332.3 1010.3,333.3 1010.5,334.3 1010.7,335.3 1010.9,336.3 1011.1,337.3 1011.3,338.3 1011.5,339.3 1011.7,340.3 1012.0,341.3 1012.2,342.3 1012.4,343.3 1012.6,344.3 1012.8,345.3 1013.0,346.3 1013.2,347.3 1013.4,348.3 1013.7,349.3 1013.9,350.3 1014.1,351.3 1014.3,352.3 1014.5,353.3 1014.7,354.3 1014.9,355.3 1015.2,356.3 1015.4,357.3 1015.6,358.3 1015.8,359.3 1016.0,360.3 1016.2,361.3 1016.4,362.3 1016.6,363.3 1016.8,364.3 1017.1,365.3 1017.3,366.3 1017.5,367.3 1017.7,368.3 1017.9,369.3 1018.1,370.3 1018.4,371.3 1018.6,372.3 1018.8,373.3 1019.0,374.3 1019.2,375.3 1019.4,376.3 1019.6,377.3 1019.8,378.3 1019.9,379.3 1020.1,380.3 1020.2,381.3 1020.4,382.3 1020.5,383.3 1020.6,384.3 1020.8,385.3 1020.9,386.3 1021.0,387.3 1021.1,388.3 1021.2,389.3 1021.2,390.3 1021.3,391.3 1021.3,392.3 1021.4,393.3 1021.4,394.3 1021.4,395.3 1021.5,396.3 1021.5,397.3 1021.5,398.3 1021.5,399.3 1021.6,400.3 1021.6,401.3 1021.6,402.3 1021.6,403.3 1021.7,404.3 1021.7,405.3 1021.7,406.3 1021.7,407.3 1021.7,408.3 1021.8,409.3 1021.8,410.3 1021.9,411.3 1021.9,412.3 1021.9,413.3 1021.9,414.3 1021.9,415.3 1021.9,416.3 1021.9,417.3 1021.9,418.3 1021.9,419.3 1021.9,420.3 1021.9,421.3 1021.9,422.3 1021.9,423.3 1021.9,424.3 1021.9,425.3 1021.9,426.3 1021.9,427.3" fill="none" stroke="#000" stroke-width="1.7" stroke-linejoin="round"/>
<polyline points="1021.9,92.3 1021.9,93.3 1021.9,94.3 1021.9,95.3 1021.9,96.3 1021.9,97.3 1021.9,98.3 1021.9,99.3 1021.9,100.3 1021.9,101.3 1021.9,102.3 1022.0,103.3 1022.1,104.3 1022.1,105.3 1022.1,106.3 1022.1,107.3 1022.2,108.3 1022.2,109.3 1022.2,110.3 1022.3,111.3 1022.3,112.3 1022.4,113.3 1022.4,114.3 1022.5,115.3 1022.5,116.3 1022.6,117.3 1022.7,118.3 1022.8,119.3 1022.9,120.3 1023.1,121.3 1023.3,122.3 1023.4,123.3 1023.6,124.3 1023.8,125.3 1024.0,126.3 1024.2,127.3 1024.4,128.3 1024.7,129.3 1024.9,130.3 1025.1,131.3 1025.4,132.3 1025.7,133.3 1026.0,134.3 1026.3,135.3 1026.6,136.3 1026.9,137.3 1027.3,138.3 1027.6,139.3 1028.0,140.3 1028.3,141.3 1028.7,142.3 1029.0,143.3 1029.3,144.3 1029.7,145.3 1030.0,146.3 1030.3,147.3 1030.6,148.3 1030.9,149.3 1031.2,150.3 1031.5,151.3 1031.8,152.3 1032.1,153.3 1032.4,154.3 1032.6,155.3 1032.9,156.3 1033.2,157.3 1033.5,158.3 1033.7,159.3 1034.0,160.3 1034.2,161.3 1034.5,162.3 1034.7,163.3 1034.9,164.3 1035.1,165.3 1035.3,166.3 1035.5,167.3 1035.7,168.3 1035.9,169.3 1036.1,170.3 1036.3,171.3 1036.5,172.3 1036.6,173.3 1036.8,174.3 1036.9,175.3 1037.0,176.3 1037.1,177.3 1037.2,178.3 1037.3,179.3 1037.3,180.3 1037.4,181.3 1037.4,182.3 1037.4,183.3 1037.5,184.3 1037.5,185.3 1037.5,186.3 1037.5,187.3 1037.4,188.3 1037.3,189.3 1037.2,190.3 1037.1,191.3 1036.9,192.3 1036.7,193.3 1036.5,194.3 1036.3,195.3 1036.1,196.3 1035.8,197.3 1035.6,198.3 1035.3,199.3 1035.1,200.3 1034.8,201.3 1034.5,202.3 1034.2,203.3 1033.9,204.3 1033.5,205.3 1033.1,206.3 1032.8,207.3 1032.4,208.3 1032.0,209.3 1031.6,210.3 1031.2,211.3 1030.9,212.3 1030.6,213.3 1030.3,214.3 1030.0,215.3 1029.8,216.3 1029.5,217.3 1029.4,218.3 1029.2,219.3 1029.0,220.3 1028.8,221.3 1028.7,222.3 1028.5,223.3 1028.4,224.3 1028.3,225.3 1028.2,226.3 1028.1,227.3 1028.0,228.3 1028.0,229.3 1028.0,230.3 1028.0,231.3 1028.1,232.3 1028.2,233.3 1028.4,234.3 1028.6,235.3 1028.9,236.3 1029.1,237.3 1029.4,238.3 1029.8,239.3 1030.1,240.3 1030.4,241.3 1030.8,242.3 1031.1,243.3 1031.5,244.3 1031.9,245.3 1032.3,246.3 1032.7,247.3 1033.2,248.3 1033.6,249.3 1034.1,250.3 1034.6,251.3 1035.1,252.3 1035.6,253.3 1036.1,254.3 1036.6,255.3 1037.0,256.3 1037.4,257.3 1037.8,258.3 1038.2,259.3 1038.6,260.3 1039.0,261.3 1039.3,262.3 1039.7,263.3 1040.0,264.3 1040.3,265.3 1040.6,266.3 1040.9,267.3 1041.2,268.3 1041.4,269.3 1041.6,270.3 1041.8,271.3 1042.0,272.3 1042.1,273.3 1042.3,274.3 1042.4,275.3 1042.5,276.3 1042.6,277.3 1042.7,278.3 1042.8,279.3 1042.9,280.3 1042.9,281.3 1042.9,282.3 1042.9,283.3 1042.9,284.3 1042.9,285.3 1042.8,286.3 1042.7,287.3 1042.6,288.3 1042.5,289.3 1042.4,290.3 1042.3,291.3 1042.1,292.3 1042.0,293.3 1041.8,294.3 1041.7,295.3 1041.5,296.3 1041.4,297.3 1041.2,298.3 1041.0,299.3 1040.9,300.3 1040.7,301.3 1040.5,302.3 1040.3,303.3 1040.1,304.3 1039.9,305.3 1039.7,306.3 1039.5,307.3 1039.2,308.3 1039.0,309.3 1038.7,310.3 1038.5,311.3 1038.3,312.3 1038.0,313.3 1037.8,314.3 1037.5,315.3 1037.3,316.3 1037.0,317.3 1036.8,318.3 1036.6,319.3 1036.3,320.3 1036.1,321.3 1035.9,322.3 1035.7,323.3 1035.4,324.3 1035.2,325.3 1035.0,326.3 1034.8,327.3 1034.6,328.3 1034.4,329.3 1034.2,330.3 1034.0,331.3 1033.7,332.3 1033.5,333.3 1033.3,334.3 1033.1,335.3 1032.9,336.3 1032.7,337.3 1032.5,338.3 1032.3,339.3 1032.1,340.3 1031.8,341.3 1031.6,342.3 1031.4,343.3 1031.2,344.3 1031.0,345.3 1030.8,346.3 1030.6,347.3 1030.4,348.3 1030.1,349.3 1029.9,350.3 1029.7,351.3 1029.5,352.3 1029.3,353.3 1029.1,354.3 1028.9,355.3 1028.6,356.3 1028.4,357.3 1028.2,358.3 1028.0,359.3 1027.8,360.3 1027.6,361.3 1027.4,362.3 1027.2,363.3 1027.0,364.3 1026.7,365.3 1026.5,366.3 1026.3,367.3 1026.1,368.3 1025.9,369.3 1025.7,370.3 1025.4,371.3 1025.2,372.3 1025.0,373.3 1024.8,374.3 1024.6,375.3 1024.4,376.3 1024.2,377.3 1024.0,378.3 1023.9,379.3 1023.7,380.3 1023.6,381.3 1023.4,382.3 1023.3,383.3 1023.2,384.3 1023.0,385.3 1022.9,386.3 1022.8,387.3 1022.7,388.3 1022.6,389.3 1022.6,390.3 1022.5,391.3 1022.5,392.3 1022.4,393.3 1022.4,394.3 1022.4,395.3 1022.3,396.3 1022.3,397.3 1022.3,398.3 1022.3,399.3 1022.2,400.3 1022.2,401.3 1022.2,402.3 1022.2,403.3 1022.1,404.3 1022.1,405.3 1022.1,406.3 1022.1,407.3 1022.1,408.3 1022.0,409.3 1022.0,410.3 1021.9,411.3 1021.9,412.3 1021.9,413.3 1021.9,414.3 1021.9,415.3 1021.9,416.3 1021.9,417.3 1021.9,418.3 1021.9,419.3 1021.9,420.3 1021.9,421.3 1021.9,422.3 1021.9,423.3 1021.9,424.3 1021.9,425.3 1021.9,426.3 1021.9,427.3" fill="none" stroke="#000" stroke-width="1.7" stroke-linejoin="round"/>
<line x1="945.60" y1="182.70" x2="965.60" y2="182.70" stroke="#000" stroke-width="1.6" stroke-dasharray="1.6 3.0" stroke-linecap="butt"/>
<line x1="934.60" y1="234.20" x2="976.60" y2="234.20" stroke="#000" stroke-width="1.6" stroke-dasharray="5.5 2.5" stroke-linecap="butt"/>
<line x1="948.10" y1="261.10" x2="963.10" y2="261.10" stroke="#000" stroke-width="1.6" stroke-dasharray="1.6 3.0" stroke-linecap="butt"/>
<line x1="1010.90" y1="191.00" x2="1032.90" y2="191.00" stroke="#000" stroke-width="1.6" stroke-dasharray="1.6 3.0" stroke-linecap="butt"/>
<line x1="1002.40" y1="275.10" x2="1041.40" y2="275.10" stroke="#000" stroke-width="1.6" stroke-dasharray="5.5 2.5" stroke-linecap="butt"/>
<line x1="1010.90" y1="314.50" x2="1032.90" y2="314.50" stroke="#000" stroke-width="1.6" stroke-dasharray="1.6 3.0" stroke-linecap="butt"/>
<circle cx="955.60" cy="154.20" r="2.7" fill="#000"/>
<circle cx="955.60" cy="182.70" r="2.7" fill="#000"/>
<circle cx="955.60" cy="224.40" r="2.7" fill="#000"/>
<circle cx="955.60" cy="234.00" r="2.7" fill="#000"/>
<circle cx="955.60" cy="237.00" r="2.7" fill="#000"/>
<circle cx="955.60" cy="245.20" r="2.7" fill="#000"/>
<circle cx="955.60" cy="277.30" r="2.7" fill="#000"/>
<circle cx="955.60" cy="288.50" r="2.7" fill="#000"/>
<circle cx="1021.90" cy="176.20" r="2.7" fill="#000"/>
<circle cx="1021.90" cy="196.20" r="2.7" fill="#000"/>
<circle cx="1021.90" cy="275.10" r="2.7" fill="#000"/>
<circle cx="1021.90" cy="304.90" r="2.7" fill="#000"/>
<circle cx="1021.90" cy="343.60" r="2.7" fill="#000"/>
<line x1="1250.30" y1="67.20" x2="1250.30" y2="434.80" stroke="#000" stroke-width="3.6" stroke-linecap="butt"/>
<line x1="1234.50" y1="432.70" x2="1395.60" y2="432.70" stroke="#000" stroke-width="4.2" stroke-linecap="butt"/>
<line x1="1234.50" y1="69.30" x2="1250.30" y2="69.30" stroke="#000" stroke-width="4.2" stroke-linecap="butt"/>
<line x1="1234.50" y1="141.70" x2="1250.30" y2="141.70" stroke="#000" stroke-width="4.2" stroke-linecap="butt"/>
<line x1="1234.50" y1="214.10" x2="1250.30" y2="214.10" stroke="#000" stroke-width="4.2" stroke-linecap="butt"/>
<line x1="1234.50" y1="286.80" x2="1250.30" y2="286.80" stroke="#000" stroke-width="4.2" stroke-linecap="butt"/>
<line x1="1234.50" y1="359.40" x2="1250.30" y2="359.40" stroke="#000" stroke-width="4.2" stroke-linecap="butt"/>
<line x1="1291.00" y1="432.70" x2="1291.00" y2="448.10" stroke="#000" stroke-width="3.6" stroke-linecap="butt"/>
<line x1="1352.80" y1="432.70" x2="1352.80" y2="448.10" stroke="#000" stroke-width="3.6" stroke-linecap="butt"/>
<text x="1231.20" y="78.90" font-size="28" text-anchor="end" fill="#000" >1.0</text>
<text x="1231.20" y="151.30" font-size="28" text-anchor="end" fill="#000" >0.5</text>
<text x="1231.20" y="223.70" font-size="28" text-anchor="end" fill="#000" >0.0</text>
<text x="1231.20" y="296.40" font-size="28" text-anchor="end" fill="#000" >-0.5</text>
<text x="1231.20" y="369.00" font-size="28" text-anchor="end" fill="#000" >-1.0</text>
<text x="1231.20" y="442.30" font-size="28" text-anchor="end" fill="#000" >-1.5</text>
<text x="1141.00" y="250.50" font-size="25.2" text-anchor="middle" transform="rotate(-90 1141.00 250.50)" fill="#000" >GMCSF/MCSF release</text>
<text x="1169.80" y="251.40" font-size="25.4" text-anchor="middle" transform="rotate(-90 1169.80 251.40)" fill="#000" >Log2 FC</text>
<text x="1299.50" y="471.50" font-size="27.8" text-anchor="end" transform="rotate(-45 1299.50 471.50)" fill="#000" >SC1</text>
<text x="1361.30" y="471.50" font-size="27.8" text-anchor="end" transform="rotate(-45 1361.30 471.50)" fill="#000" >SC2d</text>
<polyline points="1290.1,82 1290.1,60.5 1352.6,60.5 1352.6,186.7" fill="none" stroke="#333" stroke-width="1.1"/>
<text x="1321.30" y="44.00" font-size="25.2" text-anchor="middle" fill="#000" >0.057</text>
<polyline points="1290.4,92.9 1290.4,93.9 1290.4,94.9 1290.4,95.9 1290.4,96.9 1290.4,97.9 1290.4,98.9 1290.3,99.9 1290.2,100.9 1290.2,101.9 1290.2,102.9 1290.1,103.9 1290.1,104.9 1290.0,105.9 1290.0,106.9 1289.9,107.9 1289.8,108.9 1289.6,109.9 1289.5,110.9 1289.3,111.9 1289.0,112.9 1288.8,113.9 1288.5,114.9 1288.2,115.9 1287.9,116.9 1287.6,117.9 1287.2,118.9 1286.8,119.9 1286.5,120.9 1286.0,121.9 1285.6,122.9 1285.1,123.9 1284.7,124.9 1284.2,125.9 1283.8,126.9 1283.3,127.9 1282.9,128.9 1282.5,129.9 1282.2,130.9 1281.9,131.9 1281.6,132.9 1281.3,133.9 1281.0,134.9 1280.7,135.9 1280.5,136.9 1280.3,137.9 1280.1,138.9 1279.9,139.9 1279.8,140.9 1279.7,141.9 1279.6,142.9 1279.7,143.9 1279.7,144.9 1279.8,145.9 1280.0,146.9 1280.2,147.9 1280.5,148.9 1280.7,149.9 1281.0,150.9 1281.3,151.9 1281.6,152.9 1281.8,153.9 1282.1,154.9 1282.4,155.9 1282.7,156.9 1283.0,157.9 1283.3,158.9 1283.6,159.9 1283.9,160.9 1284.1,161.9 1284.3,162.9 1284.5,163.9 1284.6,164.9 1284.7,165.9 1284.7,166.9 1284.7,167.9 1284.7,168.9 1284.6,169.9 1284.5,170.9 1284.4,171.9 1284.1,172.9 1283.8,173.9 1283.3,174.9 1282.9,175.9 1282.3,176.9 1281.8,177.9 1281.2,178.9 1280.6,179.9 1280.0,180.9 1279.4,181.9 1278.8,182.9 1278.1,183.9 1277.4,184.9 1276.8,185.9 1276.1,186.9 1275.5,187.9 1274.9,188.9 1274.3,189.9 1273.8,190.9 1273.4,191.9 1273.0,192.9 1272.6,193.9 1272.2,194.9 1271.9,195.9 1271.6,196.9 1271.4,197.9 1271.3,198.9 1271.2,199.9 1271.2,200.9 1271.3,201.9 1271.4,202.9 1271.7,203.9 1272.0,204.9 1272.3,205.9 1272.7,206.9 1273.0,207.9 1273.5,208.9 1273.9,209.9 1274.4,210.9 1275.0,211.9 1275.5,212.9 1276.2,213.9 1276.8,214.9 1277.5,215.9 1278.2,216.9 1278.9,217.9 1279.5,218.9 1280.2,219.9 1280.9,220.9 1281.5,221.9 1282.2,222.9 1282.8,223.9 1283.5,224.9 1284.1,225.9 1284.8,226.9 1285.3,227.9 1285.9,228.9 1286.4,229.9 1286.9,230.9 1287.4,231.9 1287.8,232.9 1288.2,233.9 1288.5,234.9 1288.8,235.9 1289.1,236.9 1289.3,237.9 1289.4,238.9 1289.6,239.9 1289.7,240.9 1289.8,241.9 1289.8,242.9 1289.9,243.9 1290.0,244.9 1290.1,245.9 1290.1,246.9 1290.2,247.9 1290.2,248.9 1290.3,249.9 1290.4,250.9 1290.4,251.9 1290.4,252.9 1290.4,253.9 1290.4,254.9 1290.4,255.9" fill="none" stroke="#000" stroke-width="1.7" stroke-linejoin="round"/>
<polyline points="1290.4,92.9 1290.4,93.9 1290.4,94.9 1290.4,95.9 1290.4,96.9 1290.4,97.9 1290.4,98.9 1290.5,99.9 1290.6,100.9 1290.6,101.9 1290.6,102.9 1290.7,103.9 1290.7,104.9 1290.8,105.9 1290.8,106.9 1290.9,107.9 1291.0,108.9 1291.2,109.9 1291.3,110.9 1291.5,111.9 1291.8,112.9 1292.0,113.9 1292.3,114.9 1292.6,115.9 1292.9,116.9 1293.2,117.9 1293.6,118.9 1294.0,119.9 1294.3,120.9 1294.8,121.9 1295.2,122.9 1295.7,123.9 1296.1,124.9 1296.6,125.9 1297.0,126.9 1297.5,127.9 1297.9,128.9 1298.3,129.9 1298.6,130.9 1298.9,131.9 1299.2,132.9 1299.5,133.9 1299.8,134.9 1300.1,135.9 1300.3,136.9 1300.5,137.9 1300.7,138.9 1300.9,139.9 1301.0,140.9 1301.1,141.9 1301.2,142.9 1301.1,143.9 1301.1,144.9 1301.0,145.9 1300.8,146.9 1300.6,147.9 1300.3,148.9 1300.1,149.9 1299.8,150.9 1299.5,151.9 1299.2,152.9 1299.0,153.9 1298.7,154.9 1298.4,155.9 1298.1,156.9 1297.8,157.9 1297.5,158.9 1297.2,159.9 1296.9,160.9 1296.7,161.9 1296.5,162.9 1296.3,163.9 1296.2,164.9 1296.1,165.9 1296.1,166.9 1296.1,167.9 1296.1,168.9 1296.2,169.9 1296.3,170.9 1296.4,171.9 1296.7,172.9 1297.0,173.9 1297.5,174.9 1297.9,175.9 1298.5,176.9 1299.0,177.9 1299.6,178.9 1300.2,179.9 1300.8,180.9 1301.4,181.9 1302.0,182.9 1302.7,183.9 1303.4,184.9 1304.0,185.9 1304.7,186.9 1305.3,187.9 1305.9,188.9 1306.5,189.9 1307.0,190.9 1307.4,191.9 1307.8,192.9 1308.2,193.9 1308.6,194.9 1308.9,195.9 1309.2,196.9 1309.4,197.9 1309.5,198.9 1309.6,199.9 1309.6,200.9 1309.5,201.9 1309.4,202.9 1309.1,203.9 1308.8,204.9 1308.5,205.9 1308.1,206.9 1307.8,207.9 1307.3,208.9 1306.9,209.9 1306.4,210.9 1305.8,211.9 1305.3,212.9 1304.6,213.9 1304.0,214.9 1303.3,215.9 1302.6,216.9 1301.9,217.9 1301.3,218.9 1300.6,219.9 1299.9,220.9 1299.3,221.9 1298.6,222.9 1298.0,223.9 1297.3,224.9 1296.7,225.9 1296.0,226.9 1295.5,227.9 1294.9,228.9 1294.4,229.9 1293.9,230.9 1293.4,231.9 1293.0,232.9 1292.6,233.9 1292.3,234.9 1292.0,235.9 1291.7,236.9 1291.5,237.9 1291.4,238.9 1291.2,239.9 1291.1,240.9 1291.0,241.9 1291.0,242.9 1290.9,243.9 1290.8,244.9 1290.7,245.9 1290.7,246.9 1290.6,247.9 1290.6,248.9 1290.5,249.9 1290.4,250.9 1290.4,251.9 1290.4,252.9 1290.4,253.9 1290.4,254.9 1290.4,255.9" fill="none" stroke="#000" stroke-width="1.7" stroke-linejoin="round"/>
<polyline points="1352.5,197.7 1352.5,198.7 1352.5,199.7 1352.5,200.7 1352.5,201.7 1352.5,202.7 1352.5,203.7 1352.5,204.7 1352.4,205.7 1352.3,206.7 1352.3,207.7 1352.2,208.7 1352.2,209.7 1352.1,210.7 1352.1,211.7 1352.0,212.7 1352.0,213.7 1351.9,214.7 1351.8,215.7 1351.7,216.7 1351.5,217.7 1351.3,218.7 1351.1,219.7 1350.7,220.7 1350.4,221.7 1350.0,222.7 1349.5,223.7 1349.1,224.7 1348.6,225.7 1348.2,226.7 1347.7,227.7 1347.3,228.7 1346.8,229.7 1346.3,230.7 1345.8,231.7 1345.3,232.7 1344.8,233.7 1344.4,234.7 1343.9,235.7 1343.5,236.7 1343.1,237.7 1342.7,238.7 1342.4,239.7 1342.1,240.7 1341.9,241.7 1341.6,242.7 1341.4,243.7 1341.2,244.7 1341.0,245.7 1340.9,246.7 1340.7,247.7 1340.6,248.7 1340.5,249.7 1340.4,250.7 1340.4,251.7 1340.4,252.7 1340.5,253.7 1340.6,254.7 1340.7,255.7 1340.9,256.7 1341.0,257.7 1341.2,258.7 1341.4,259.7 1341.6,260.7 1341.8,261.7 1342.0,262.7 1342.2,263.7 1342.3,264.7 1342.5,265.7 1342.7,266.7 1342.9,267.7 1343.1,268.7 1343.2,269.7 1343.4,270.7 1343.5,271.7 1343.6,272.7 1343.6,273.7 1343.5,274.7 1343.4,275.7 1343.3,276.7 1343.0,277.7 1342.7,278.7 1342.4,279.7 1342.1,280.7 1341.7,281.7 1341.3,282.7 1340.9,283.7 1340.5,284.7 1340.1,285.7 1339.7,286.7 1339.3,287.7 1338.9,288.7 1338.5,289.7 1338.1,290.7 1337.7,291.7 1337.3,292.7 1336.9,293.7 1336.5,294.7 1336.2,295.7 1335.8,296.7 1335.5,297.7 1335.3,298.7 1335.0,299.7 1334.8,300.7 1334.6,301.7 1334.4,302.7 1334.2,303.7 1334.0,304.7 1333.8,305.7 1333.7,306.7 1333.5,307.7 1333.4,308.7 1333.3,309.7 1333.2,310.7 1333.2,311.7 1333.1,312.7 1333.1,313.7 1333.1,314.7 1333.1,315.7 1333.2,316.7 1333.2,317.7 1333.2,318.7 1333.3,319.7 1333.3,320.7 1333.4,321.7 1333.4,322.7 1333.5,323.7 1333.6,324.7 1333.6,325.7 1333.7,326.7 1333.8,327.7 1333.9,328.7 1334.0,329.7 1334.2,330.7 1334.3,331.7 1334.5,332.7 1334.7,333.7 1334.9,334.7 1335.1,335.7 1335.3,336.7 1335.5,337.7 1335.7,338.7 1336.0,339.7 1336.2,340.7 1336.5,341.7 1336.8,342.7 1337.1,343.7 1337.5,344.7 1337.9,345.7 1338.2,346.7 1338.6,347.7 1339.0,348.7 1339.3,349.7 1339.7,350.7 1340.1,351.7 1340.5,352.7 1340.9,353.7 1341.3,354.7 1341.7,355.7 1342.0,356.7 1342.5,357.7 1342.9,358.7 1343.3,359.7 1343.7,360.7 1344.1,361.7 1344.5,362.7 1344.9,363.7 1345.3,364.7 1345.7,365.7 1346.2,366.7 1346.6,367.7 1347.0,368.7 1347.5,369.7 1347.9,370.7 1348.3,371.7 1348.7,372.7 1349.1,373.7 1349.5,374.7 1349.8,375.7 1350.1,376.7 1350.4,377.7 1350.7,378.7 1351.0,379.7 1351.2,380.7 1351.4,381.7 1351.6,382.7 1351.7,383.7 1351.9,384.7 1352.0,385.7 1352.0,386.7 1352.1,387.7 1352.2,388.7 1352.2,389.7 1352.2,390.7 1352.3,391.7 1352.3,392.7 1352.3,393.7 1352.4,394.7 1352.5,395.7 1352.5,396.7 1352.5,397.7 1352.5,398.7 1352.5,399.7 1352.5,400.7 1352.5,401.7 1352.5,402.7" fill="none" stroke="#000" stroke-width="1.7" stroke-linejoin="round"/>
<polyline points="1352.5,197.7 1352.5,198.7 1352.5,199.7 1352.5,200.7 1352.5,201.7 1352.5,202.7 1352.5,203.7 1352.5,204.7 1352.6,205.7 1352.7,206.7 1352.7,207.7 1352.8,208.7 1352.8,209.7 1352.9,210.7 1352.9,211.7 1353.0,212.7 1353.0,213.7 1353.1,214.7 1353.2,215.7 1353.3,216.7 1353.5,217.7 1353.7,218.7 1353.9,219.7 1354.3,220.7 1354.6,221.7 1355.0,222.7 1355.5,223.7 1355.9,224.7 1356.4,225.7 1356.8,226.7 1357.3,227.7 1357.7,228.7 1358.2,229.7 1358.7,230.7 1359.2,231.7 1359.7,232.7 1360.2,233.7 1360.6,234.7 1361.1,235.7 1361.5,236.7 1361.9,237.7 1362.3,238.7 1362.6,239.7 1362.9,240.7 1363.1,241.7 1363.4,242.7 1363.6,243.7 1363.8,244.7 1364.0,245.7 1364.1,246.7 1364.3,247.7 1364.4,248.7 1364.5,249.7 1364.6,250.7 1364.6,251.7 1364.6,252.7 1364.5,253.7 1364.4,254.7 1364.3,255.7 1364.1,256.7 1364.0,257.7 1363.8,258.7 1363.6,259.7 1363.4,260.7 1363.2,261.7 1363.0,262.7 1362.8,263.7 1362.7,264.7 1362.5,265.7 1362.3,266.7 1362.1,267.7 1361.9,268.7 1361.8,269.7 1361.6,270.7 1361.5,271.7 1361.4,272.7 1361.4,273.7 1361.5,274.7 1361.6,275.7 1361.7,276.7 1362.0,277.7 1362.3,278.7 1362.6,279.7 1362.9,280.7 1363.3,281.7 1363.7,282.7 1364.1,283.7 1364.5,284.7 1364.9,285.7 1365.3,286.7 1365.7,287.7 1366.1,288.7 1366.5,289.7 1366.9,290.7 1367.3,291.7 1367.7,292.7 1368.1,293.7 1368.5,294.7 1368.8,295.7 1369.2,296.7 1369.5,297.7 1369.7,298.7 1370.0,299.7 1370.2,300.7 1370.4,301.7 1370.6,302.7 1370.8,303.7 1371.0,304.7 1371.2,305.7 1371.3,306.7 1371.5,307.7 1371.6,308.7 1371.7,309.7 1371.8,310.7 1371.8,311.7 1371.9,312.7 1371.9,313.7 1371.9,314.7 1371.9,315.7 1371.8,316.7 1371.8,317.7 1371.8,318.7 1371.7,319.7 1371.7,320.7 1371.6,321.7 1371.6,322.7 1371.5,323.7 1371.4,324.7 1371.4,325.7 1371.3,326.7 1371.2,327.7 1371.1,328.7 1371.0,329.7 1370.8,330.7 1370.7,331.7 1370.5,332.7 1370.3,333.7 1370.1,334.7 1369.9,335.7 1369.7,336.7 1369.5,337.7 1369.3,338.7 1369.0,339.7 1368.8,340.7 1368.5,341.7 1368.2,342.7 1367.9,343.7 1367.5,344.7 1367.1,345.7 1366.8,346.7 1366.4,347.7 1366.0,348.7 1365.7,349.7 1365.3,350.7 1364.9,351.7 1364.5,352.7 1364.1,353.7 1363.7,354.7 1363.3,355.7 1363.0,356.7 1362.5,357.7 1362.1,358.7 1361.7,359.7 1361.3,360.7 1360.9,361.7 1360.5,362.7 1360.1,363.7 1359.7,364.7 1359.3,365.7 1358.8,366.7 1358.4,367.7 1358.0,368.7 1357.5,369.7 1357.1,370.7 1356.7,371.7 1356.3,372.7 1355.9,373.7 1355.5,374.7 1355.2,375.7 1354.9,376.7 1354.6,377.7 1354.3,378.7 1354.0,379.7 1353.8,380.7 1353.6,381.7 1353.4,382.7 1353.3,383.7 1353.1,384.7 1353.0,385.7 1353.0,386.7 1352.9,387.7 1352.8,388.7 1352.8,389.7 1352.8,390.7 1352.7,391.7 1352.7,392.7 1352.7,393.7 1352.6,394.7 1352.5,395.7 1352.5,396.7 1352.5,397.7 1352.5,398.7 1352.5,399.7 1352.5,400.7 1352.5,401.7 1352.5,402.7" fill="none" stroke="#000" stroke-width="1.7" stroke-linejoin="round"/>
<line x1="1281.40" y1="143.40" x2="1299.40" y2="143.40" stroke="#000" stroke-width="1.6" stroke-dasharray="1.6 3.0" stroke-linecap="butt"/>
<line x1="1273.40" y1="194.10" x2="1307.40" y2="194.10" stroke="#000" stroke-width="1.6" stroke-dasharray="5.5 2.5" stroke-linecap="butt"/>
<line x1="1275.40" y1="206.00" x2="1305.40" y2="206.00" stroke="#000" stroke-width="1.6" stroke-dasharray="1.6 3.0" stroke-linecap="butt"/>
<line x1="1344.50" y1="265.30" x2="1360.50" y2="265.30" stroke="#000" stroke-width="1.6" stroke-dasharray="1.6 3.0" stroke-linecap="butt"/>
<line x1="1333.50" y1="309.80" x2="1371.50" y2="309.80" stroke="#000" stroke-width="1.6" stroke-dasharray="5.5 2.5" stroke-linecap="butt"/>
<line x1="1336.50" y1="340.50" x2="1368.50" y2="340.50" stroke="#000" stroke-width="1.6" stroke-dasharray="1.6 3.0" stroke-linecap="butt"/>
<circle cx="1290.40" cy="143.40" r="2.6" fill="#000"/>
<circle cx="1290.40" cy="194.10" r="2.6" fill="#000"/>
<circle cx="1290.40" cy="206.00" r="2.6" fill="#000"/>
<circle cx="1352.50" cy="253.90" r="2.6" fill="#000"/>
<circle cx="1352.50" cy="299.10" r="2.6" fill="#000"/>
<circle cx="1352.50" cy="321.10" r="2.6" fill="#000"/>
<circle cx="1352.50" cy="347.00" r="2.6" fill="#000"/>
<line x1="1084.10" y1="635.25" x2="1084.10" y2="1014.15" stroke="#000" stroke-width="4.0" stroke-linecap="butt"/>
<line x1="1067.90" y1="1012.00" x2="1234.20" y2="1012.00" stroke="#000" stroke-width="4.3" stroke-linecap="butt"/>
<line x1="1067.90" y1="637.40" x2="1084.10" y2="637.40" stroke="#000" stroke-width="4.3" stroke-linecap="butt"/>
<line x1="1067.90" y1="762.40" x2="1084.10" y2="762.40" stroke="#000" stroke-width="4.3" stroke-linecap="butt"/>
<line x1="1067.90" y1="887.40" x2="1084.10" y2="887.40" stroke="#000" stroke-width="4.3" stroke-linecap="butt"/>
<line x1="1125.90" y1="1012.00" x2="1125.90" y2="1027.85" stroke="#000" stroke-width="4.0" stroke-linecap="butt"/>
<line x1="1189.80" y1="1012.00" x2="1189.80" y2="1027.85" stroke="#000" stroke-width="4.0" stroke-linecap="butt"/>
<text x="1064.40" y="646.30" font-size="26.3" text-anchor="end" fill="#000" >4</text>
<text x="1064.40" y="771.30" font-size="26.3" text-anchor="end" fill="#000" >2</text>
<text x="1064.40" y="896.30" font-size="26.3" text-anchor="end" fill="#000" >0</text>
<text x="1064.40" y="1020.90" font-size="26.3" text-anchor="end" fill="#000" >-2</text>
<text x="1025.30" y="826.60" font-size="25.8" text-anchor="middle" transform="rotate(-90 1025.30 826.60)" fill="#000" >TNFa release Log2 FC</text>
<text x="1134.80" y="1052.30" font-size="28.8" text-anchor="end" transform="rotate(-45 1134.80 1052.30)" fill="#000" >SC1</text>
<text x="1198.40" y="1052.30" font-size="28.8" text-anchor="end" transform="rotate(-45 1198.40 1052.30)" fill="#000" >SC2d</text>
<polyline points="1123.2,760.5 1123.2,659.0 1187.5,659.0 1187.5,665.6" fill="none" stroke="#3a3a3a" stroke-width="1.25"/>
<text x="1155.30" y="642.40" font-size="25.6" text-anchor="middle" fill="#000" >0.066</text>
<polyline points="1125.7,775.5 1125.7,776.5 1125.7,777.5 1125.7,778.5 1125.7,779.5 1125.7,780.5 1125.7,781.5 1125.7,782.5 1125.6,783.5 1125.5,784.5 1125.5,785.5 1125.5,786.5 1125.4,787.5 1125.4,788.5 1125.3,789.5 1125.3,790.5 1125.2,791.5 1125.1,792.5 1125.0,793.5 1124.9,794.5 1124.7,795.5 1124.5,796.5 1124.2,797.5 1124.0,798.5 1123.7,799.5 1123.4,800.5 1123.1,801.5 1122.8,802.5 1122.5,803.5 1122.3,804.5 1122.0,805.5 1121.7,806.5 1121.4,807.5 1121.1,808.5 1120.8,809.5 1120.5,810.5 1120.2,811.5 1119.9,812.5 1119.7,813.5 1119.4,814.5 1119.2,815.5 1118.9,816.5 1118.7,817.5 1118.5,818.5 1118.3,819.5 1118.1,820.5 1117.9,821.5 1117.7,822.5 1117.6,823.5 1117.4,824.5 1117.2,825.5 1117.0,826.5 1116.8,827.5 1116.6,828.5 1116.4,829.5 1116.2,830.5 1116.0,831.5 1115.7,832.5 1115.5,833.5 1115.2,834.5 1115.0,835.5 1114.7,836.5 1114.4,837.5 1114.1,838.5 1113.8,839.5 1113.5,840.5 1113.2,841.5 1112.9,842.5 1112.7,843.5 1112.5,844.5 1112.2,845.5 1112.0,846.5 1111.8,847.5 1111.6,848.5 1111.5,849.5 1111.3,850.5 1111.2,851.5 1111.0,852.5 1110.9,853.5 1110.8,854.5 1110.7,855.5 1110.6,856.5 1110.6,857.5 1110.5,858.5 1110.5,859.5 1110.4,860.5 1110.4,861.5 1110.4,862.5 1110.4,863.5 1110.5,864.5 1110.5,865.5 1110.6,866.5 1110.7,867.5 1110.8,868.5 1111.0,869.5 1111.1,870.5 1111.2,871.5 1111.4,872.5 1111.5,873.5 1111.7,874.5 1111.9,875.5 1112.2,876.5 1112.4,877.5 1112.7,878.5 1113.0,879.5 1113.3,880.5 1113.5,881.5 1113.7,882.5 1114.0,883.5 1114.1,884.5 1114.3,885.5 1114.4,886.5 1114.4,887.5 1114.5,888.5 1114.6,889.5 1114.6,890.5 1114.7,891.5 1114.7,892.5 1114.7,893.5 1114.6,894.5 1114.5,895.5 1114.4,896.5 1114.1,897.5 1113.8,898.5 1113.4,899.5 1112.9,900.5 1112.5,901.5 1112.0,902.5 1111.5,903.5 1111.0,904.5 1110.5,905.5 1110.1,906.5 1109.6,907.5 1109.1,908.5 1108.7,909.5 1108.2,910.5 1107.8,911.5 1107.4,912.5 1107.1,913.5 1106.7,914.5 1106.4,915.5 1106.1,916.5 1105.8,917.5 1105.6,918.5 1105.5,919.5 1105.4,920.5 1105.4,921.5 1105.5,922.5 1105.6,923.5 1105.7,924.5 1105.9,925.5 1106.2,926.5 1106.5,927.5 1106.8,928.5 1107.3,929.5 1107.8,930.5 1108.3,931.5 1109.0,932.5 1109.7,933.5 1110.4,934.5 1111.2,935.5 1111.9,936.5 1112.7,937.5 1113.5,938.5 1114.2,939.5 1115.0,940.5 1115.7,941.5 1116.5,942.5 1117.2,943.5 1118.0,944.5 1118.7,945.5 1119.4,946.5 1120.1,947.5 1120.8,948.5 1121.4,949.5 1122.0,950.5 1122.5,951.5 1123.0,952.5 1123.5,953.5 1123.9,954.5 1124.2,955.5 1124.5,956.5 1124.7,957.5 1124.9,958.5 1125.0,959.5 1125.1,960.5 1125.1,961.5 1125.2,962.5 1125.3,963.5 1125.3,964.5 1125.4,965.5 1125.5,966.5 1125.5,967.5 1125.5,968.5 1125.6,969.5 1125.7,970.5 1125.7,971.5 1125.7,972.5 1125.7,973.5 1125.7,974.5 1125.7,975.5" fill="none" stroke="#000" stroke-width="1.7" stroke-linejoin="round"/>
<polyline points="1125.7,775.5 1125.7,776.5 1125.7,777.5 1125.7,778.5 1125.7,779.5 1125.7,780.5 1125.7,781.5 1125.7,782.5 1125.8,783.5 1125.9,784.5 1125.9,785.5 1125.9,786.5 1126.0,787.5 1126.0,788.5 1126.1,789.5 1126.1,790.5 1126.2,791.5 1126.3,792.5 1126.4,793.5 1126.5,794.5 1126.7,795.5 1126.9,796.5 1127.2,797.5 1127.4,798.5 1127.7,799.5 1128.0,800.5 1128.3,801.5 1128.6,802.5 1128.9,803.5 1129.1,804.5 1129.4,805.5 1129.7,806.5 1130.0,807.5 1130.3,808.5 1130.6,809.5 1130.9,810.5 1131.2,811.5 1131.5,812.5 1131.7,813.5 1132.0,814.5 1132.2,815.5 1132.5,816.5 1132.7,817.5 1132.9,818.5 1133.1,819.5 1133.3,820.5 1133.5,821.5 1133.7,822.5 1133.8,823.5 1134.0,824.5 1134.2,825.5 1134.4,826.5 1134.6,827.5 1134.8,828.5 1135.0,829.5 1135.2,830.5 1135.4,831.5 1135.7,832.5 1135.9,833.5 1136.2,834.5 1136.4,835.5 1136.7,836.5 1137.0,837.5 1137.3,838.5 1137.6,839.5 1137.9,840.5 1138.2,841.5 1138.5,842.5 1138.7,843.5 1138.9,844.5 1139.2,845.5 1139.4,846.5 1139.6,847.5 1139.8,848.5 1139.9,849.5 1140.1,850.5 1140.2,851.5 1140.4,852.5 1140.5,853.5 1140.6,854.5 1140.7,855.5 1140.8,856.5 1140.8,857.5 1140.9,858.5 1140.9,859.5 1141.0,860.5 1141.0,861.5 1141.0,862.5 1141.0,863.5 1140.9,864.5 1140.9,865.5 1140.8,866.5 1140.7,867.5 1140.6,868.5 1140.4,869.5 1140.3,870.5 1140.2,871.5 1140.0,872.5 1139.9,873.5 1139.7,874.5 1139.5,875.5 1139.2,876.5 1139.0,877.5 1138.7,878.5 1138.4,879.5 1138.1,880.5 1137.9,881.5 1137.7,882.5 1137.4,883.5 1137.3,884.5 1137.1,885.5 1137.0,886.5 1137.0,887.5 1136.9,888.5 1136.8,889.5 1136.8,890.5 1136.7,891.5 1136.7,892.5 1136.7,893.5 1136.8,894.5 1136.9,895.5 1137.0,896.5 1137.3,897.5 1137.6,898.5 1138.0,899.5 1138.5,900.5 1138.9,901.5 1139.4,902.5 1139.9,903.5 1140.4,904.5 1140.9,905.5 1141.3,906.5 1141.8,907.5 1142.3,908.5 1142.7,909.5 1143.2,910.5 1143.6,911.5 1144.0,912.5 1144.3,913.5 1144.7,914.5 1145.0,915.5 1145.3,916.5 1145.6,917.5 1145.8,918.5 1145.9,919.5 1146.0,920.5 1146.0,921.5 1145.9,922.5 1145.8,923.5 1145.7,924.5 1145.5,925.5 1145.2,926.5 1144.9,927.5 1144.6,928.5 1144.1,929.5 1143.6,930.5 1143.1,931.5 1142.4,932.5 1141.7,933.5 1141.0,934.5 1140.2,935.5 1139.5,936.5 1138.7,937.5 1137.9,938.5 1137.2,939.5 1136.4,940.5 1135.7,941.5 1134.9,942.5 1134.2,943.5 1133.4,944.5 1132.7,945.5 1132.0,946.5 1131.3,947.5 1130.6,948.5 1130.0,949.5 1129.4,950.5 1128.9,951.5 1128.4,952.5 1127.9,953.5 1127.5,954.5 1127.2,955.5 1126.9,956.5 1126.7,957.5 1126.5,958.5 1126.4,959.5 1126.3,960.5 1126.3,961.5 1126.2,962.5 1126.1,963.5 1126.1,964.5 1126.0,965.5 1125.9,966.5 1125.9,967.5 1125.9,968.5 1125.8,969.5 1125.7,970.5 1125.7,971.5 1125.7,972.5 1125.7,973.5 1125.7,974.5 1125.7,975.5" fill="none" stroke="#000" stroke-width="1.7" stroke-linejoin="round"/>
<polyline points="1189.4,678.4 1189.4,679.4 1189.4,680.4 1189.4,681.4 1189.4,682.4 1189.4,683.4 1189.4,684.4 1189.4,685.4 1189.4,686.4 1189.4,687.4 1189.4,688.4 1189.4,689.4 1189.4,690.4 1189.3,691.4 1189.2,692.4 1189.2,693.4 1189.2,694.4 1189.2,695.4 1189.1,696.4 1189.1,697.4 1189.1,698.4 1189.1,699.4 1189.0,700.4 1189.0,701.4 1188.9,702.4 1188.9,703.4 1188.8,704.4 1188.8,705.4 1188.7,706.4 1188.5,707.4 1188.4,708.4 1188.2,709.4 1188.0,710.4 1187.8,711.4 1187.6,712.4 1187.4,713.4 1187.2,714.4 1186.9,715.4 1186.7,716.4 1186.4,717.4 1186.1,718.4 1185.8,719.4 1185.5,720.4 1185.2,721.4 1184.8,722.4 1184.5,723.4 1184.2,724.4 1183.8,725.4 1183.5,726.4 1183.2,727.4 1182.9,728.4 1182.6,729.4 1182.2,730.4 1181.9,731.4 1181.6,732.4 1181.3,733.4 1181.0,734.4 1180.7,735.4 1180.4,736.4 1180.2,737.4 1180.0,738.4 1179.8,739.4 1179.6,740.4 1179.5,741.4 1179.3,742.4 1179.2,743.4 1179.0,744.4 1178.9,745.4 1178.9,746.4 1178.8,747.4 1178.8,748.4 1178.8,749.4 1178.8,750.4 1178.8,751.4 1178.9,752.4 1179.0,753.4 1179.1,754.4 1179.2,755.4 1179.3,756.4 1179.5,757.4 1179.6,758.4 1179.7,759.4 1179.9,760.4 1180.0,761.4 1180.2,762.4 1180.4,763.4 1180.5,764.4 1180.7,765.4 1180.9,766.4 1181.0,767.4 1181.1,768.4 1181.1,769.4 1181.1,770.4 1181.1,771.4 1181.1,772.4 1181.0,773.4 1180.9,774.4 1180.8,775.4 1180.7,776.4 1180.5,777.4 1180.2,778.4 1179.9,779.4 1179.6,780.4 1179.3,781.4 1178.9,782.4 1178.5,783.4 1178.1,784.4 1177.6,785.4 1177.1,786.4 1176.6,787.4 1176.1,788.4 1175.6,789.4 1175.1,790.4 1174.6,791.4 1174.2,792.4 1173.7,793.4 1173.3,794.4 1172.9,795.4 1172.5,796.4 1172.1,797.4 1171.8,798.4 1171.4,799.4 1171.1,800.4 1170.8,801.4 1170.6,802.4 1170.3,803.4 1170.1,804.4 1169.9,805.4 1169.7,806.4 1169.6,807.4 1169.4,808.4 1169.3,809.4 1169.1,810.4 1169.0,811.4 1169.0,812.4 1168.9,813.4 1168.9,814.4 1168.9,815.4 1168.9,816.4 1169.0,817.4 1169.1,818.4 1169.2,819.4 1169.4,820.4 1169.5,821.4 1169.7,822.4 1169.8,823.4 1170.0,824.4 1170.1,825.4 1170.3,826.4 1170.5,827.4 1170.6,828.4 1170.8,829.4 1171.0,830.4 1171.2,831.4 1171.3,832.4 1171.5,833.4 1171.6,834.4 1171.7,835.4 1171.8,836.4 1171.9,837.4 1171.9,838.4 1171.8,839.4 1171.7,840.4 1171.6,841.4 1171.4,842.4 1171.2,843.4 1170.9,844.4 1170.7,845.4 1170.5,846.4 1170.3,847.4 1170.1,848.4 1169.9,849.4 1169.8,850.4 1169.6,851.4 1169.4,852.4 1169.3,853.4 1169.1,854.4 1169.0,855.4 1168.9,856.4 1168.9,857.4 1168.8,858.4 1168.8,859.4 1168.8,860.4 1168.8,861.4 1168.8,862.4 1168.8,863.4 1168.8,864.4 1168.8,865.4 1168.8,866.4 1168.8,867.4 1168.8,868.4 1168.9,869.4 1168.9,870.4 1169.0,871.4 1169.1,872.4 1169.3,873.4 1169.5,874.4 1169.8,875.4 1170.0,876.4 1170.3,877.4 1170.5,878.4 1170.8,879.4 1171.1,880.4 1171.3,881.4 1171.6,882.4 1171.9,883.4 1172.2,884.4 1172.4,885.4 1172.7,886.4 1173.0,887.4 1173.3,888.4 1173.6,889.4 1173.9,890.4 1174.2,891.4 1174.5,892.4 1174.7,893.4 1175.0,894.4 1175.2,895.4 1175.4,896.4 1175.7,897.4 1175.9,898.4 1176.1,899.4 1176.3,900.4 1176.5,901.4 1176.7,902.4 1176.8,903.4 1177.0,904.4 1177.2,905.4 1177.4,906.4 1177.6,907.4 1177.8,908.4 1178.0,909.4 1178.2,910.4 1178.5,911.4 1178.7,912.4 1178.9,913.4 1179.2,914.4 1179.4,915.4 1179.7,916.4 1179.9,917.4 1180.2,918.4 1180.4,919.4 1180.7,920.4 1180.9,921.4 1181.2,922.4 1181.4,923.4 1181.7,924.4 1182.0,925.4 1182.2,926.4 1182.5,927.4 1182.8,928.4 1183.1,929.4 1183.3,930.4 1183.6,931.4 1183.9,932.4 1184.2,933.4 1184.4,934.4 1184.7,935.4 1185.0,936.4 1185.3,937.4 1185.5,938.4 1185.8,939.4 1186.1,940.4 1186.4,941.4 1186.7,942.4 1187.0,943.4 1187.3,944.4 1187.6,945.4 1187.8,946.4 1188.1,947.4 1188.2,948.4 1188.4,949.4 1188.5,950.4 1188.6,951.4 1188.6,952.4 1188.7,953.4 1188.7,954.4 1188.8,955.4 1188.8,956.4 1188.9,957.4 1188.9,958.4 1188.9,959.4 1189.0,960.4 1189.0,961.4 1189.0,962.4 1189.1,963.4 1189.1,964.4 1189.1,965.4 1189.2,966.4 1189.2,967.4 1189.2,968.4 1189.2,969.4 1189.3,970.4 1189.4,971.4 1189.4,972.4 1189.4,973.4 1189.4,974.4 1189.4,975.4 1189.4,976.4 1189.4,977.4 1189.4,978.4 1189.4,979.4 1189.4,980.4 1189.4,981.4 1189.4,982.4 1189.4,983.4" fill="none" stroke="#000" stroke-width="1.7" stroke-linejoin="round"/>
<polyline points="1189.4,678.4 1189.4,679.4 1189.4,680.4 1189.4,681.4 1189.4,682.4 1189.4,683.4 1189.4,684.4 1189.4,685.4 1189.4,686.4 1189.4,687.4 1189.4,688.4 1189.4,689.4 1189.4,690.4 1189.5,691.4 1189.6,692.4 1189.6,693.4 1189.6,694.4 1189.6,695.4 1189.7,696.4 1189.7,697.4 1189.7,698.4 1189.7,699.4 1189.8,700.4 1189.8,701.4 1189.9,702.4 1189.9,703.4 1190.0,704.4 1190.0,705.4 1190.1,706.4 1190.3,707.4 1190.4,708.4 1190.6,709.4 1190.8,710.4 1191.0,711.4 1191.2,712.4 1191.4,713.4 1191.6,714.4 1191.9,715.4 1192.1,716.4 1192.4,717.4 1192.7,718.4 1193.0,719.4 1193.3,720.4 1193.6,721.4 1194.0,722.4 1194.3,723.4 1194.6,724.4 1195.0,725.4 1195.3,726.4 1195.6,727.4 1195.9,728.4 1196.2,729.4 1196.6,730.4 1196.9,731.4 1197.2,732.4 1197.5,733.4 1197.8,734.4 1198.1,735.4 1198.4,736.4 1198.6,737.4 1198.8,738.4 1199.0,739.4 1199.2,740.4 1199.3,741.4 1199.5,742.4 1199.6,743.4 1199.8,744.4 1199.9,745.4 1199.9,746.4 1200.0,747.4 1200.0,748.4 1200.0,749.4 1200.0,750.4 1200.0,751.4 1199.9,752.4 1199.8,753.4 1199.7,754.4 1199.6,755.4 1199.5,756.4 1199.3,757.4 1199.2,758.4 1199.1,759.4 1198.9,760.4 1198.8,761.4 1198.6,762.4 1198.4,763.4 1198.3,764.4 1198.1,765.4 1197.9,766.4 1197.8,767.4 1197.7,768.4 1197.7,769.4 1197.7,770.4 1197.7,771.4 1197.7,772.4 1197.8,773.4 1197.9,774.4 1198.0,775.4 1198.1,776.4 1198.3,777.4 1198.6,778.4 1198.9,779.4 1199.2,780.4 1199.5,781.4 1199.9,782.4 1200.3,783.4 1200.7,784.4 1201.2,785.4 1201.7,786.4 1202.2,787.4 1202.7,788.4 1203.2,789.4 1203.7,790.4 1204.2,791.4 1204.6,792.4 1205.1,793.4 1205.5,794.4 1205.9,795.4 1206.3,796.4 1206.7,797.4 1207.0,798.4 1207.4,799.4 1207.7,800.4 1208.0,801.4 1208.2,802.4 1208.5,803.4 1208.7,804.4 1208.9,805.4 1209.1,806.4 1209.2,807.4 1209.4,808.4 1209.5,809.4 1209.7,810.4 1209.8,811.4 1209.8,812.4 1209.9,813.4 1209.9,814.4 1209.9,815.4 1209.9,816.4 1209.8,817.4 1209.7,818.4 1209.6,819.4 1209.4,820.4 1209.3,821.4 1209.1,822.4 1209.0,823.4 1208.8,824.4 1208.7,825.4 1208.5,826.4 1208.3,827.4 1208.2,828.4 1208.0,829.4 1207.8,830.4 1207.6,831.4 1207.5,832.4 1207.3,833.4 1207.2,834.4 1207.1,835.4 1207.0,836.4 1206.9,837.4 1206.9,838.4 1207.0,839.4 1207.1,840.4 1207.2,841.4 1207.4,842.4 1207.6,843.4 1207.9,844.4 1208.1,845.4 1208.3,846.4 1208.5,847.4 1208.7,848.4 1208.9,849.4 1209.0,850.4 1209.2,851.4 1209.4,852.4 1209.5,853.4 1209.7,854.4 1209.8,855.4 1209.9,856.4 1209.9,857.4 1210.0,858.4 1210.0,859.4 1210.0,860.4 1210.0,861.4 1210.0,862.4 1210.0,863.4 1210.0,864.4 1210.0,865.4 1210.0,866.4 1210.0,867.4 1210.0,868.4 1209.9,869.4 1209.9,870.4 1209.8,871.4 1209.7,872.4 1209.5,873.4 1209.3,874.4 1209.0,875.4 1208.8,876.4 1208.5,877.4 1208.3,878.4 1208.0,879.4 1207.7,880.4 1207.5,881.4 1207.2,882.4 1206.9,883.4 1206.6,884.4 1206.4,885.4 1206.1,886.4 1205.8,887.4 1205.5,888.4 1205.2,889.4 1204.9,890.4 1204.6,891.4 1204.3,892.4 1204.1,893.4 1203.8,894.4 1203.6,895.4 1203.4,896.4 1203.1,897.4 1202.9,898.4 1202.7,899.4 1202.5,900.4 1202.3,901.4 1202.1,902.4 1202.0,903.4 1201.8,904.4 1201.6,905.4 1201.4,906.4 1201.2,907.4 1201.0,908.4 1200.8,909.4 1200.6,910.4 1200.3,911.4 1200.1,912.4 1199.9,913.4 1199.6,914.4 1199.4,915.4 1199.1,916.4 1198.9,917.4 1198.6,918.4 1198.4,919.4 1198.1,920.4 1197.9,921.4 1197.6,922.4 1197.4,923.4 1197.1,924.4 1196.8,925.4 1196.6,926.4 1196.3,927.4 1196.0,928.4 1195.7,929.4 1195.5,930.4 1195.2,931.4 1194.9,932.4 1194.6,933.4 1194.4,934.4 1194.1,935.4 1193.8,936.4 1193.5,937.4 1193.3,938.4 1193.0,939.4 1192.7,940.4 1192.4,941.4 1192.1,942.4 1191.8,943.4 1191.5,944.4 1191.2,945.4 1191.0,946.4 1190.7,947.4 1190.6,948.4 1190.4,949.4 1190.3,950.4 1190.2,951.4 1190.2,952.4 1190.1,953.4 1190.1,954.4 1190.0,955.4 1190.0,956.4 1189.9,957.4 1189.9,958.4 1189.9,959.4 1189.8,960.4 1189.8,961.4 1189.8,962.4 1189.7,963.4 1189.7,964.4 1189.7,965.4 1189.6,966.4 1189.6,967.4 1189.6,968.4 1189.6,969.4 1189.5,970.4 1189.4,971.4 1189.4,972.4 1189.4,973.4 1189.4,974.4 1189.4,975.4 1189.4,976.4 1189.4,977.4 1189.4,978.4 1189.4,979.4 1189.4,980.4 1189.4,981.4 1189.4,982.4 1189.4,983.4" fill="none" stroke="#000" stroke-width="1.7" stroke-linejoin="round"/>
<line x1="1115.70" y1="854.25" x2="1135.70" y2="854.25" stroke="#000" stroke-width="1.6" stroke-dasharray="1.6 3.0" stroke-linecap="butt"/>
<line x1="1114.70" y1="886.39" x2="1136.70" y2="886.39" stroke="#000" stroke-width="1.6" stroke-dasharray="5.5 2.5" stroke-linecap="butt"/>
<line x1="1107.70" y1="921.64" x2="1143.70" y2="921.64" stroke="#000" stroke-width="1.6" stroke-dasharray="1.6 3.0" stroke-linecap="butt"/>
<line x1="1178.90" y1="795.25" x2="1199.90" y2="795.25" stroke="#000" stroke-width="1.6" stroke-dasharray="1.6 3.0" stroke-linecap="butt"/>
<line x1="1172.40" y1="838.90" x2="1206.40" y2="838.90" stroke="#000" stroke-width="1.6" stroke-dasharray="5.5 2.5" stroke-linecap="butt"/>
<line x1="1176.90" y1="881.10" x2="1201.90" y2="881.10" stroke="#000" stroke-width="1.6" stroke-dasharray="1.6 3.0" stroke-linecap="butt"/>
<circle cx="1125.70" cy="821.55" r="2.7" fill="#000"/>
<circle cx="1126.10" cy="849.86" r="2.7" fill="#000"/>
<circle cx="1125.70" cy="859.18" r="2.7" fill="#000"/>
<circle cx="1125.70" cy="873.24" r="2.7" fill="#000"/>
<circle cx="1125.70" cy="886.76" r="2.7" fill="#000"/>
<circle cx="1122.00" cy="914.89" r="2.7" fill="#000"/>
<circle cx="1129.70" cy="913.06" r="2.7" fill="#000"/>
<circle cx="1122.00" cy="930.23" r="2.7" fill="#000"/>
<circle cx="1129.70" cy="929.32" r="2.7" fill="#000"/>
<circle cx="1189.40" cy="751.20" r="2.7" fill="#000"/>
<circle cx="1189.40" cy="809.68" r="2.7" fill="#000"/>
<circle cx="1189.40" cy="818.45" r="2.7" fill="#000"/>
<circle cx="1189.40" cy="859.18" r="2.7" fill="#000"/>
<circle cx="1189.40" cy="871.05" r="2.7" fill="#000"/>
<circle cx="1189.40" cy="910.68" r="2.7" fill="#000"/>
<line x1="1353.00" y1="631.90" x2="1353.00" y2="1002.10" stroke="#000" stroke-width="3.7" stroke-linecap="butt"/>
<line x1="1337.30" y1="1000.00" x2="1500.00" y2="1000.00" stroke="#000" stroke-width="4.2" stroke-linecap="butt"/>
<line x1="1337.30" y1="634.00" x2="1353.00" y2="634.00" stroke="#000" stroke-width="4.2" stroke-linecap="butt"/>
<line x1="1337.30" y1="707.10" x2="1353.00" y2="707.10" stroke="#000" stroke-width="4.2" stroke-linecap="butt"/>
<line x1="1337.30" y1="780.20" x2="1353.00" y2="780.20" stroke="#000" stroke-width="4.2" stroke-linecap="butt"/>
<line x1="1337.30" y1="853.40" x2="1353.00" y2="853.40" stroke="#000" stroke-width="4.2" stroke-linecap="butt"/>
<line x1="1337.30" y1="926.60" x2="1353.00" y2="926.60" stroke="#000" stroke-width="4.2" stroke-linecap="butt"/>
<line x1="1393.95" y1="1000.00" x2="1393.95" y2="1015.90" stroke="#000" stroke-width="3.7" stroke-linecap="butt"/>
<line x1="1456.40" y1="1000.00" x2="1456.40" y2="1015.90" stroke="#000" stroke-width="3.7" stroke-linecap="butt"/>
<text x="1334.00" y="643.80" font-size="28.8" text-anchor="end" fill="#000" >2</text>
<text x="1334.00" y="716.90" font-size="28.8" text-anchor="end" fill="#000" >1</text>
<text x="1334.00" y="790.00" font-size="28.8" text-anchor="end" fill="#000" >0</text>
<text x="1334.00" y="863.20" font-size="28.8" text-anchor="end" fill="#000" >-1</text>
<text x="1334.00" y="936.40" font-size="28.8" text-anchor="end" fill="#000" >-2</text>
<text x="1334.00" y="1009.80" font-size="28.8" text-anchor="end" fill="#000" >-3</text>
<text x="1292.70" y="817.20" font-size="24.9" text-anchor="middle" transform="rotate(-90 1292.70 817.20)" fill="#000" >IL8 release Log2 FC</text>
<text x="1402.90" y="1039.50" font-size="28" text-anchor="end" transform="rotate(-45 1402.90 1039.50)" fill="#000" >SC1</text>
<text x="1465.30" y="1039.50" font-size="28" text-anchor="end" transform="rotate(-45 1465.30 1039.50)" fill="#000" >SC2d</text>
<polyline points="1393.9,683.1 1393.9,684.1 1393.9,685.1 1393.9,686.1 1393.9,687.1 1393.9,688.1 1393.9,689.1 1393.9,690.1 1393.9,691.1 1393.9,692.1 1393.9,693.1 1393.8,694.1 1393.7,695.1 1393.7,696.1 1393.7,697.1 1393.7,698.1 1393.6,699.1 1393.6,700.1 1393.6,701.1 1393.5,702.1 1393.5,703.1 1393.4,704.1 1393.4,705.1 1393.3,706.1 1393.3,707.1 1393.2,708.1 1393.2,709.1 1393.1,710.1 1392.9,711.1 1392.8,712.1 1392.6,713.1 1392.4,714.1 1392.1,715.1 1391.9,716.1 1391.6,717.1 1391.3,718.1 1391.0,719.1 1390.7,720.1 1390.4,721.1 1390.1,722.1 1389.7,723.1 1389.3,724.1 1389.0,725.1 1388.6,726.1 1388.2,727.1 1387.8,728.1 1387.5,729.1 1387.1,730.1 1386.7,731.1 1386.4,732.1 1386.0,733.1 1385.7,734.1 1385.4,735.1 1385.0,736.1 1384.7,737.1 1384.3,738.1 1384.0,739.1 1383.7,740.1 1383.4,741.1 1383.1,742.1 1382.9,743.1 1382.6,744.1 1382.4,745.1 1382.2,746.1 1382.0,747.1 1381.7,748.1 1381.5,749.1 1381.3,750.1 1381.2,751.1 1381.0,752.1 1380.9,753.1 1380.9,754.1 1380.8,755.1 1380.8,756.1 1380.8,757.1 1380.9,758.1 1380.9,759.1 1381.0,760.1 1381.1,761.1 1381.2,762.1 1381.4,763.1 1381.5,764.1 1381.7,765.1 1381.9,766.1 1382.1,767.1 1382.4,768.1 1382.7,769.1 1383.1,770.1 1383.4,771.1 1383.7,772.1 1384.1,773.1 1384.4,774.1 1384.7,775.1 1384.9,776.1 1385.2,777.1 1385.4,778.1 1385.7,779.1 1385.9,780.1 1386.1,781.1 1386.2,782.1 1386.4,783.1 1386.5,784.1 1386.6,785.1 1386.7,786.1 1386.8,787.1 1386.8,788.1 1386.9,789.1 1386.9,790.1 1386.9,791.1 1386.9,792.1 1386.9,793.1 1386.8,794.1 1386.7,795.1 1386.6,796.1 1386.4,797.1 1386.2,798.1 1386.0,799.1 1385.8,800.1 1385.5,801.1 1385.2,802.1 1384.9,803.1 1384.5,804.1 1384.0,805.1 1383.5,806.1 1383.0,807.1 1382.5,808.1 1382.0,809.1 1381.5,810.1 1381.0,811.1 1380.4,812.1 1379.9,813.1 1379.4,814.1 1378.9,815.1 1378.4,816.1 1378.0,817.1 1377.6,818.1 1377.3,819.1 1377.0,820.1 1376.8,821.1 1376.6,822.1 1376.4,823.1 1376.2,824.1 1376.0,825.1 1375.8,826.1 1375.7,827.1 1375.5,828.1 1375.4,829.1 1375.2,830.1 1375.0,831.1 1374.9,832.1 1374.7,833.1 1374.6,834.1 1374.5,835.1 1374.3,836.1 1374.2,837.1 1374.1,838.1 1374.0,839.1 1373.9,840.1 1373.9,841.1 1373.9,842.1 1373.8,843.1 1373.9,844.1 1373.9,845.1 1373.9,846.1 1374.0,847.1 1374.0,848.1 1374.1,849.1 1374.2,850.1 1374.3,851.1 1374.4,852.1 1374.5,853.1 1374.7,854.1 1374.8,855.1 1375.0,856.1 1375.2,857.1 1375.5,858.1 1375.8,859.1 1376.1,860.1 1376.5,861.1 1376.8,862.1 1377.2,863.1 1377.5,864.1 1377.9,865.1 1378.3,866.1 1378.8,867.1 1379.2,868.1 1379.6,869.1 1380.1,870.1 1380.6,871.1 1381.0,872.1 1381.5,873.1 1382.0,874.1 1382.5,875.1 1383.1,876.1 1383.6,877.1 1384.1,878.1 1384.7,879.1 1385.2,880.1 1385.7,881.1 1386.1,882.1 1386.6,883.1 1387.1,884.1 1387.5,885.1 1387.9,886.1 1388.3,887.1 1388.7,888.1 1389.1,889.1 1389.4,890.1 1389.8,891.1 1390.1,892.1 1390.5,893.1 1390.8,894.1 1391.1,895.1 1391.4,896.1 1391.6,897.1 1391.9,898.1 1392.1,899.1 1392.3,900.1 1392.5,901.1 1392.7,902.1 1392.8,903.1 1393.0,904.1 1393.1,905.1 1393.2,906.1 1393.3,907.1 1393.4,908.1 1393.5,909.1 1393.5,910.1 1393.6,911.1 1393.6,912.1 1393.6,913.1 1393.7,914.1 1393.7,915.1 1393.7,916.1 1393.7,917.1 1393.7,918.1 1393.8,919.1 1393.8,920.1 1393.9,921.1 1393.9,922.1 1393.9,923.1 1393.9,924.1 1393.9,925.1 1393.9,926.1 1393.9,927.1 1393.9,928.1 1393.9,929.1 1393.9,930.1 1393.9,931.1 1393.9,932.1 1393.9,933.1 1393.9,934.1" fill="none" stroke="#000" stroke-width="1.7" stroke-linejoin="round"/>
<polyline points="1393.9,683.1 1393.9,684.1 1393.9,685.1 1393.9,686.1 1393.9,687.1 1393.9,688.1 1393.9,689.1 1393.9,690.1 1393.9,691.1 1393.9,692.1 1393.9,693.1 1394.0,694.1 1394.1,695.1 1394.1,696.1 1394.1,697.1 1394.1,698.1 1394.2,699.1 1394.2,700.1 1394.2,701.1 1394.3,702.1 1394.3,703.1 1394.4,704.1 1394.4,705.1 1394.5,706.1 1394.5,707.1 1394.6,708.1 1394.6,709.1 1394.7,710.1 1394.9,711.1 1395.0,712.1 1395.2,713.1 1395.4,714.1 1395.7,715.1 1395.9,716.1 1396.2,717.1 1396.5,718.1 1396.8,719.1 1397.1,720.1 1397.4,721.1 1397.7,722.1 1398.1,723.1 1398.5,724.1 1398.8,725.1 1399.2,726.1 1399.6,727.1 1400.0,728.1 1400.3,729.1 1400.7,730.1 1401.1,731.1 1401.4,732.1 1401.8,733.1 1402.1,734.1 1402.4,735.1 1402.8,736.1 1403.1,737.1 1403.5,738.1 1403.8,739.1 1404.1,740.1 1404.4,741.1 1404.7,742.1 1404.9,743.1 1405.2,744.1 1405.4,745.1 1405.6,746.1 1405.8,747.1 1406.1,748.1 1406.3,749.1 1406.5,750.1 1406.6,751.1 1406.8,752.1 1406.9,753.1 1406.9,754.1 1407.0,755.1 1407.0,756.1 1407.0,757.1 1406.9,758.1 1406.9,759.1 1406.8,760.1 1406.7,761.1 1406.6,762.1 1406.4,763.1 1406.3,764.1 1406.1,765.1 1405.9,766.1 1405.7,767.1 1405.4,768.1 1405.1,769.1 1404.7,770.1 1404.4,771.1 1404.1,772.1 1403.7,773.1 1403.4,774.1 1403.1,775.1 1402.9,776.1 1402.6,777.1 1402.4,778.1 1402.1,779.1 1401.9,780.1 1401.7,781.1 1401.6,782.1 1401.4,783.1 1401.3,784.1 1401.2,785.1 1401.1,786.1 1401.0,787.1 1401.0,788.1 1400.9,789.1 1400.9,790.1 1400.9,791.1 1400.9,792.1 1400.9,793.1 1401.0,794.1 1401.1,795.1 1401.2,796.1 1401.4,797.1 1401.6,798.1 1401.8,799.1 1402.0,800.1 1402.3,801.1 1402.6,802.1 1402.9,803.1 1403.3,804.1 1403.8,805.1 1404.3,806.1 1404.8,807.1 1405.3,808.1 1405.8,809.1 1406.3,810.1 1406.8,811.1 1407.4,812.1 1407.9,813.1 1408.4,814.1 1408.9,815.1 1409.4,816.1 1409.8,817.1 1410.2,818.1 1410.5,819.1 1410.8,820.1 1411.0,821.1 1411.2,822.1 1411.4,823.1 1411.6,824.1 1411.8,825.1 1412.0,826.1 1412.1,827.1 1412.3,828.1 1412.4,829.1 1412.6,830.1 1412.8,831.1 1412.9,832.1 1413.1,833.1 1413.2,834.1 1413.3,835.1 1413.5,836.1 1413.6,837.1 1413.7,838.1 1413.8,839.1 1413.9,840.1 1413.9,841.1 1413.9,842.1 1414.0,843.1 1413.9,844.1 1413.9,845.1 1413.9,846.1 1413.8,847.1 1413.8,848.1 1413.7,849.1 1413.6,850.1 1413.5,851.1 1413.4,852.1 1413.3,853.1 1413.1,854.1 1413.0,855.1 1412.8,856.1 1412.6,857.1 1412.3,858.1 1412.0,859.1 1411.7,860.1 1411.3,861.1 1411.0,862.1 1410.6,863.1 1410.3,864.1 1409.9,865.1 1409.5,866.1 1409.0,867.1 1408.6,868.1 1408.2,869.1 1407.7,870.1 1407.2,871.1 1406.8,872.1 1406.3,873.1 1405.8,874.1 1405.3,875.1 1404.7,876.1 1404.2,877.1 1403.7,878.1 1403.1,879.1 1402.6,880.1 1402.1,881.1 1401.7,882.1 1401.2,883.1 1400.7,884.1 1400.3,885.1 1399.9,886.1 1399.5,887.1 1399.1,888.1 1398.7,889.1 1398.4,890.1 1398.0,891.1 1397.7,892.1 1397.3,893.1 1397.0,894.1 1396.7,895.1 1396.4,896.1 1396.2,897.1 1395.9,898.1 1395.7,899.1 1395.5,900.1 1395.3,901.1 1395.1,902.1 1395.0,903.1 1394.8,904.1 1394.7,905.1 1394.6,906.1 1394.5,907.1 1394.4,908.1 1394.3,909.1 1394.3,910.1 1394.2,911.1 1394.2,912.1 1394.2,913.1 1394.1,914.1 1394.1,915.1 1394.1,916.1 1394.1,917.1 1394.1,918.1 1394.0,919.1 1394.0,920.1 1393.9,921.1 1393.9,922.1 1393.9,923.1 1393.9,924.1 1393.9,925.1 1393.9,926.1 1393.9,927.1 1393.9,928.1 1393.9,929.1 1393.9,930.1 1393.9,931.1 1393.9,932.1 1393.9,933.1 1393.9,934.1" fill="none" stroke="#000" stroke-width="1.7" stroke-linejoin="round"/>
<polyline points="1456.3,650.2 1456.3,651.2 1456.3,652.2 1456.3,653.2 1456.3,654.2 1456.3,655.2 1456.3,656.2 1456.3,657.2 1456.3,658.2 1456.2,659.2 1456.1,660.2 1456.1,661.2 1456.1,662.2 1456.0,663.2 1456.0,664.2 1455.9,665.2 1455.9,666.2 1455.8,667.2 1455.7,668.2 1455.7,669.2 1455.6,670.2 1455.5,671.2 1455.4,672.2 1455.2,673.2 1455.0,674.2 1454.6,675.2 1454.2,676.2 1453.8,677.2 1453.2,678.2 1452.6,679.2 1452.0,680.2 1451.4,681.2 1450.8,682.2 1450.2,683.2 1449.6,684.2 1448.9,685.2 1448.3,686.2 1447.6,687.2 1447.0,688.2 1446.3,689.2 1445.7,690.2 1445.1,691.2 1444.4,692.2 1443.8,693.2 1443.2,694.2 1442.6,695.2 1442.0,696.2 1441.4,697.2 1440.9,698.2 1440.4,699.2 1439.9,700.2 1439.4,701.2 1439.0,702.2 1438.7,703.2 1438.3,704.2 1438.0,705.2 1437.7,706.2 1437.4,707.2 1437.2,708.2 1437.0,709.2 1436.8,710.2 1436.7,711.2 1436.5,712.2 1436.4,713.2 1436.4,714.2 1436.3,715.2 1436.3,716.2 1436.3,717.2 1436.4,718.2 1436.5,719.2 1436.6,720.2 1436.8,721.2 1437.0,722.2 1437.3,723.2 1437.6,724.2 1437.9,725.2 1438.2,726.2 1438.6,727.2 1439.1,728.2 1439.7,729.2 1440.3,730.2 1440.9,731.2 1441.6,732.2 1442.2,733.2 1442.9,734.2 1443.5,735.2 1444.1,736.2 1444.8,737.2 1445.4,738.2 1446.0,739.2 1446.6,740.2 1447.2,741.2 1447.8,742.2 1448.4,743.2 1449.0,744.2 1449.6,745.2 1450.2,746.2 1450.7,747.2 1451.3,748.2 1451.8,749.2 1452.3,750.2 1452.8,751.2 1453.2,752.2 1453.5,753.2 1453.9,754.2 1454.2,755.2 1454.4,756.2 1454.7,757.2 1454.9,758.2 1455.0,759.2 1455.1,760.2 1455.1,761.2 1455.0,762.2 1454.9,763.2 1454.8,764.2 1454.6,765.2 1454.4,766.2 1454.2,767.2 1454.0,768.2 1453.7,769.2 1453.5,770.2 1453.2,771.2 1453.0,772.2 1452.7,773.2 1452.5,774.2 1452.2,775.2 1452.0,776.2 1451.7,777.2 1451.5,778.2 1451.2,779.2 1451.0,780.2 1450.8,781.2 1450.6,782.2 1450.4,783.2 1450.2,784.2 1450.0,785.2 1449.8,786.2 1449.6,787.2 1449.5,788.2 1449.3,789.2 1449.2,790.2 1449.1,791.2 1449.0,792.2 1448.9,793.2 1448.8,794.2 1448.8,795.2 1448.8,796.2 1448.8,797.2 1448.9,798.2 1449.1,799.2 1449.3,800.2 1449.6,801.2 1449.8,802.2 1450.0,803.2 1450.1,804.2 1450.3,805.2 1450.4,806.2 1450.6,807.2 1450.7,808.2 1450.9,809.2 1451.1,810.2 1451.4,811.2 1451.7,812.2 1452.0,813.2 1452.3,814.2 1452.6,815.2 1452.9,816.2 1453.2,817.2 1453.5,818.2 1453.8,819.2 1454.1,820.2 1454.4,821.2 1454.7,822.2 1455.0,823.2 1455.2,824.2 1455.4,825.2 1455.6,826.2 1455.7,827.2 1455.7,828.2 1455.8,829.2 1455.9,830.2 1455.9,831.2 1455.9,832.2 1456.0,833.2 1456.0,834.2 1456.0,835.2 1456.0,836.2 1456.1,837.2 1456.1,838.2 1456.1,839.2 1456.1,840.2 1456.2,841.2 1456.2,842.2 1456.3,843.2 1456.3,844.2 1456.3,845.2 1456.3,846.2 1456.3,847.2 1456.3,848.2 1456.3,849.2 1456.3,850.2 1456.3,851.2 1456.3,852.2 1456.3,853.2 1456.3,854.2 1456.3,855.2 1456.3,856.2" fill="none" stroke="#000" stroke-width="1.7" stroke-linejoin="round"/>
<polyline points="1456.3,650.2 1456.3,651.2 1456.3,652.2 1456.3,653.2 1456.3,654.2 1456.3,655.2 1456.3,656.2 1456.3,657.2 1456.3,658.2 1456.4,659.2 1456.5,660.2 1456.5,661.2 1456.5,662.2 1456.6,663.2 1456.6,664.2 1456.7,665.2 1456.7,666.2 1456.8,667.2 1456.9,668.2 1456.9,669.2 1457.0,670.2 1457.1,671.2 1457.2,672.2 1457.4,673.2 1457.6,674.2 1458.0,675.2 1458.4,676.2 1458.8,677.2 1459.4,678.2 1460.0,679.2 1460.6,680.2 1461.2,681.2 1461.8,682.2 1462.4,683.2 1463.0,684.2 1463.7,685.2 1464.3,686.2 1465.0,687.2 1465.6,688.2 1466.3,689.2 1466.9,690.2 1467.5,691.2 1468.2,692.2 1468.8,693.2 1469.4,694.2 1470.0,695.2 1470.6,696.2 1471.2,697.2 1471.7,698.2 1472.2,699.2 1472.7,700.2 1473.2,701.2 1473.6,702.2 1473.9,703.2 1474.3,704.2 1474.6,705.2 1474.9,706.2 1475.2,707.2 1475.4,708.2 1475.6,709.2 1475.8,710.2 1475.9,711.2 1476.1,712.2 1476.2,713.2 1476.2,714.2 1476.3,715.2 1476.3,716.2 1476.3,717.2 1476.2,718.2 1476.1,719.2 1476.0,720.2 1475.8,721.2 1475.6,722.2 1475.3,723.2 1475.0,724.2 1474.7,725.2 1474.4,726.2 1474.0,727.2 1473.5,728.2 1472.9,729.2 1472.3,730.2 1471.7,731.2 1471.0,732.2 1470.4,733.2 1469.7,734.2 1469.1,735.2 1468.5,736.2 1467.8,737.2 1467.2,738.2 1466.6,739.2 1466.0,740.2 1465.4,741.2 1464.8,742.2 1464.2,743.2 1463.6,744.2 1463.0,745.2 1462.4,746.2 1461.9,747.2 1461.3,748.2 1460.8,749.2 1460.3,750.2 1459.8,751.2 1459.4,752.2 1459.1,753.2 1458.7,754.2 1458.4,755.2 1458.2,756.2 1457.9,757.2 1457.7,758.2 1457.6,759.2 1457.5,760.2 1457.5,761.2 1457.6,762.2 1457.7,763.2 1457.8,764.2 1458.0,765.2 1458.2,766.2 1458.4,767.2 1458.6,768.2 1458.9,769.2 1459.1,770.2 1459.4,771.2 1459.6,772.2 1459.9,773.2 1460.1,774.2 1460.4,775.2 1460.6,776.2 1460.9,777.2 1461.1,778.2 1461.4,779.2 1461.6,780.2 1461.8,781.2 1462.0,782.2 1462.2,783.2 1462.4,784.2 1462.6,785.2 1462.8,786.2 1463.0,787.2 1463.1,788.2 1463.3,789.2 1463.4,790.2 1463.5,791.2 1463.6,792.2 1463.7,793.2 1463.8,794.2 1463.8,795.2 1463.8,796.2 1463.8,797.2 1463.7,798.2 1463.5,799.2 1463.3,800.2 1463.0,801.2 1462.8,802.2 1462.6,803.2 1462.5,804.2 1462.3,805.2 1462.2,806.2 1462.0,807.2 1461.9,808.2 1461.7,809.2 1461.5,810.2 1461.2,811.2 1460.9,812.2 1460.6,813.2 1460.3,814.2 1460.0,815.2 1459.7,816.2 1459.4,817.2 1459.1,818.2 1458.8,819.2 1458.5,820.2 1458.2,821.2 1457.9,822.2 1457.6,823.2 1457.4,824.2 1457.2,825.2 1457.0,826.2 1456.9,827.2 1456.9,828.2 1456.8,829.2 1456.7,830.2 1456.7,831.2 1456.7,832.2 1456.6,833.2 1456.6,834.2 1456.6,835.2 1456.6,836.2 1456.5,837.2 1456.5,838.2 1456.5,839.2 1456.5,840.2 1456.4,841.2 1456.4,842.2 1456.3,843.2 1456.3,844.2 1456.3,845.2 1456.3,846.2 1456.3,847.2 1456.3,848.2 1456.3,849.2 1456.3,850.2 1456.3,851.2 1456.3,852.2 1456.3,853.2 1456.3,854.2 1456.3,855.2 1456.3,856.2" fill="none" stroke="#000" stroke-width="1.7" stroke-linejoin="round"/>
<line x1="1382.90" y1="759.30" x2="1404.90" y2="759.30" stroke="#000" stroke-width="1.6" stroke-dasharray="1.6 3.0" stroke-linecap="butt"/>
<line x1="1376.40" y1="828.00" x2="1411.40" y2="828.00" stroke="#000" stroke-width="1.6" stroke-dasharray="5.5 2.5" stroke-linecap="butt"/>
<line x1="1380.90" y1="858.40" x2="1406.90" y2="858.40" stroke="#000" stroke-width="1.6" stroke-dasharray="1.6 3.0" stroke-linecap="butt"/>
<line x1="1438.80" y1="710.90" x2="1473.80" y2="710.90" stroke="#000" stroke-width="1.6" stroke-dasharray="1.6 3.0" stroke-linecap="butt"/>
<line x1="1438.30" y1="721.10" x2="1474.30" y2="721.10" stroke="#000" stroke-width="1.6" stroke-dasharray="5.5 2.5" stroke-linecap="butt"/>
<line x1="1457.00" y1="779.90" x2="1459.50" y2="779.90" stroke="#000" stroke-width="1.2" stroke-linecap="butt"/>
<circle cx="1393.90" cy="759.30" r="2.6" fill="#000"/>
<circle cx="1393.90" cy="828.00" r="2.6" fill="#000"/>
<circle cx="1393.90" cy="858.40" r="2.6" fill="#000"/>
<circle cx="1456.30" cy="709.00" r="2.6" fill="#000"/>
<circle cx="1456.30" cy="717.80" r="2.6" fill="#000"/>
<circle cx="1456.30" cy="725.10" r="2.6" fill="#000"/>
<circle cx="1456.30" cy="798.20" r="2.6" fill="#000"/>
<rect x="250.80" y="634.00" width="246.40" height="91.00" fill="#ffffff" stroke="none" stroke-width="0"/>
<rect x="250.80" y="634.00" width="123.40" height="45.00" fill="#ff8000" stroke="none" stroke-width="0"/>
<rect x="373.20" y="634.00" width="124.00" height="46.00" fill="#ffe6cf" stroke="none" stroke-width="0"/>
<rect x="373.20" y="679.00" width="124.00" height="46.00" fill="#0000c0" stroke="none" stroke-width="0"/>
<rect x="251.75" y="634.95" width="244.50" height="89.10" fill="none" stroke="#808080" stroke-width="1.9"/>
<line x1="233.20" y1="657.30" x2="250.80" y2="657.30" stroke="#808080" stroke-width="1.9" stroke-linecap="butt"/>
<text x="226.60" y="666.72" font-size="26.3" text-anchor="end" fill="#000" >SC1</text>
<line x1="233.20" y1="701.40" x2="250.80" y2="701.40" stroke="#808080" stroke-width="1.9" stroke-linecap="butt"/>
<text x="226.60" y="710.82" font-size="26.3" text-anchor="end" fill="#000" >SC2d</text>
<line x1="312.80" y1="725.00" x2="312.80" y2="742.50" stroke="#808080" stroke-width="1.9" stroke-linecap="butt"/>
<text x="321.00" y="767.00" font-size="27" text-anchor="end" transform="rotate(-45 321.00 767.00)" fill="#000" >Treg</text>
<line x1="435.00" y1="725.00" x2="435.00" y2="742.50" stroke="#808080" stroke-width="1.9" stroke-linecap="butt"/>
<text x="442.00" y="768.50" font-size="27" text-anchor="end" transform="rotate(-45 442.00 768.50)" fill="#000" >CTL/Treg</text>
<text x="383.00" y="599.60" font-size="30.2" text-anchor="middle" fill="#000" >GES Log2 Fold change</text>
<defs><linearGradient id="g1" x1="0" y1="0" x2="0" y2="1"><stop offset="0.0000" stop-color="#ff8000"/><stop offset="0.9050" stop-color="#ffffff"/><stop offset="1.0000" stop-color="#2a2acc"/></linearGradient></defs>
<rect x="527.10" y="626.00" width="45.90" height="150.80" fill="#000" stroke="none" stroke-width="0"/>
<rect x="532.00" y="630.90" width="36.10" height="141.00" fill="url(#g1)" stroke="none" stroke-width="0"/>
<line x1="531.80" y1="633.30" x2="541.00" y2="633.30" stroke="#000" stroke-width="4.9" stroke-linecap="butt"/>
<line x1="559.10" y1="633.30" x2="568.30" y2="633.30" stroke="#000" stroke-width="4.9" stroke-linecap="butt"/>
<text x="584.30" y="641.99" font-size="26.8" text-anchor="start" fill="#000" >0.2</text>
<line x1="531.80" y1="696.00" x2="541.00" y2="696.00" stroke="#000" stroke-width="4.9" stroke-linecap="butt"/>
<line x1="559.10" y1="696.00" x2="568.30" y2="696.00" stroke="#000" stroke-width="4.9" stroke-linecap="butt"/>
<text x="584.30" y="704.69" font-size="26.8" text-anchor="start" fill="#000" >0.1</text>
<line x1="531.80" y1="758.70" x2="541.00" y2="758.70" stroke="#000" stroke-width="4.9" stroke-linecap="butt"/>
<line x1="559.10" y1="758.70" x2="568.30" y2="758.70" stroke="#000" stroke-width="4.9" stroke-linecap="butt"/>
<text x="584.30" y="767.39" font-size="26.8" text-anchor="start" fill="#000" >0</text>
<rect x="233.80" y="921.00" width="258.50" height="94.20" fill="#f1f1fc" stroke="none" stroke-width="0"/>
<rect x="233.80" y="921.00" width="129.60" height="46.70" fill="#0000c0" stroke="none" stroke-width="0"/>
<rect x="362.40" y="921.00" width="129.90" height="47.70" fill="#e8e8f9" stroke="none" stroke-width="0"/>
<rect x="362.40" y="967.70" width="129.90" height="47.50" fill="#ff8000" stroke="none" stroke-width="0"/>
<rect x="234.75" y="921.95" width="256.60" height="92.30" fill="none" stroke="#808080" stroke-width="1.9"/>
<line x1="214.00" y1="944.70" x2="233.80" y2="944.70" stroke="#808080" stroke-width="1.9" stroke-linecap="butt"/>
<text x="208.60" y="954.62" font-size="27.7" text-anchor="end" fill="#000" >SC1</text>
<line x1="214.00" y1="990.70" x2="233.80" y2="990.70" stroke="#808080" stroke-width="1.9" stroke-linecap="butt"/>
<text x="208.60" y="1000.62" font-size="27.7" text-anchor="end" fill="#000" >SC2d</text>
<line x1="298.80" y1="1015.20" x2="298.80" y2="1034.00" stroke="#808080" stroke-width="1.9" stroke-linecap="butt"/>
<text x="305.80" y="1059.00" font-size="27.8" text-anchor="end" transform="rotate(-45 305.80 1059.00)" fill="#000" >C</text>
<line x1="426.80" y1="1015.20" x2="426.80" y2="1034.00" stroke="#808080" stroke-width="1.9" stroke-linecap="butt"/>
<text x="434.00" y="1058.50" font-size="27.8" text-anchor="end" transform="rotate(-45 434.00 1058.50)" fill="#000" >N</text>
<text x="407.90" y="881.50" font-size="30.5" text-anchor="middle" fill="#000" >Total Treg proportions</text>
<defs><linearGradient id="g2" x1="0" y1="0" x2="0" y2="1"><stop offset="0.0000" stop-color="#ff8000"/><stop offset="0.5000" stop-color="#ffffff"/><stop offset="1.0000" stop-color="#0808c4"/></linearGradient></defs>
<rect x="526.20" y="916.20" width="42.70" height="149.60" fill="#000" stroke="none" stroke-width="0"/>
<rect x="531.20" y="921.20" width="32.70" height="139.60" fill="url(#g2)" stroke="none" stroke-width="0"/>
<line x1="531.00" y1="955.90" x2="540.40" y2="955.90" stroke="#000" stroke-width="5.0" stroke-linecap="butt"/>
<line x1="554.70" y1="955.90" x2="564.10" y2="955.90" stroke="#000" stroke-width="5.0" stroke-linecap="butt"/>
<text x="571.80" y="965.07" font-size="27.3" text-anchor="start" fill="#000" >1.4</text>
<line x1="531.00" y1="1019.20" x2="540.40" y2="1019.20" stroke="#000" stroke-width="5.0" stroke-linecap="butt"/>
<line x1="554.70" y1="1019.20" x2="564.10" y2="1019.20" stroke="#000" stroke-width="5.0" stroke-linecap="butt"/>
<text x="571.80" y="1028.37" font-size="27.3" text-anchor="start" fill="#000" >1.2</text>
<rect x="236.40" y="1150.80" width="263.00" height="96.70" fill="#0000c0" stroke="none" stroke-width="0"/>
<rect x="236.40" y="1150.80" width="132.00" height="48.20" fill="#2626c9" stroke="none" stroke-width="0"/>
<rect x="367.40" y="1150.80" width="132.00" height="49.20" fill="#7979dc" stroke="none" stroke-width="0"/>
<rect x="367.40" y="1199.00" width="132.00" height="48.50" fill="#ff8000" stroke="none" stroke-width="0"/>
<rect x="237.35" y="1151.75" width="261.10" height="94.80" fill="none" stroke="#808080" stroke-width="1.9"/>
<line x1="216.70" y1="1175.70" x2="236.40" y2="1175.70" stroke="#808080" stroke-width="1.9" stroke-linecap="butt"/>
<text x="211.00" y="1185.69" font-size="27.9" text-anchor="end" fill="#000" >SC1</text>
<line x1="216.70" y1="1223.00" x2="236.40" y2="1223.00" stroke="#808080" stroke-width="1.9" stroke-linecap="butt"/>
<text x="211.00" y="1232.99" font-size="27.9" text-anchor="end" fill="#000" >SC2d</text>
<line x1="302.20" y1="1247.50" x2="302.20" y2="1266.70" stroke="#808080" stroke-width="1.9" stroke-linecap="butt"/>
<text x="310.30" y="1293.00" font-size="28" text-anchor="end" transform="rotate(-45 310.30 1293.00)" fill="#000" >C</text>
<line x1="433.20" y1="1247.50" x2="433.20" y2="1266.70" stroke="#808080" stroke-width="1.9" stroke-linecap="butt"/>
<text x="439.60" y="1292.30" font-size="28" text-anchor="end" transform="rotate(-45 439.60 1292.30)" fill="#000" >N</text>
<text x="388.40" y="1108.50" font-size="30.2" text-anchor="middle" fill="#000" >Proliferating Treg proportions</text>
<defs><linearGradient id="g3" x1="0" y1="0" x2="0" y2="1"><stop offset="0.0000" stop-color="#ff8000"/><stop offset="0.5000" stop-color="#ffffff"/><stop offset="1.0000" stop-color="#0808c4"/></linearGradient></defs>
<rect x="526.20" y="1149.80" width="41.30" height="146.20" fill="#000" stroke="none" stroke-width="0"/>
<rect x="531.60" y="1155.20" width="30.50" height="135.40" fill="url(#g3)" stroke="none" stroke-width="0"/>
<line x1="531.40" y1="1160.00" x2="541.10" y2="1160.00" stroke="#000" stroke-width="5.4" stroke-linecap="butt"/>
<line x1="552.60" y1="1160.00" x2="562.30" y2="1160.00" stroke="#000" stroke-width="5.4" stroke-linecap="butt"/>
<text x="577.00" y="1169.68" font-size="29" text-anchor="start" fill="#000" >20</text>
<line x1="531.40" y1="1203.50" x2="541.10" y2="1203.50" stroke="#000" stroke-width="5.4" stroke-linecap="butt"/>
<line x1="552.60" y1="1203.50" x2="562.30" y2="1203.50" stroke="#000" stroke-width="5.4" stroke-linecap="butt"/>
<text x="577.00" y="1213.18" font-size="29" text-anchor="start" fill="#000" >15</text>
<line x1="531.40" y1="1246.50" x2="541.10" y2="1246.50" stroke="#000" stroke-width="5.4" stroke-linecap="butt"/>
<line x1="552.60" y1="1246.50" x2="562.30" y2="1246.50" stroke="#000" stroke-width="5.4" stroke-linecap="butt"/>
<text x="577.00" y="1256.18" font-size="29" text-anchor="start" fill="#000" >10</text>
<line x1="531.40" y1="1289.80" x2="541.10" y2="1289.80" stroke="#000" stroke-width="5.4" stroke-linecap="butt"/>
<line x1="552.60" y1="1289.80" x2="562.30" y2="1289.80" stroke="#000" stroke-width="5.4" stroke-linecap="butt"/>
<text x="577.00" y="1299.48" font-size="29" text-anchor="start" fill="#000" >5</text>
</svg></body></html>
